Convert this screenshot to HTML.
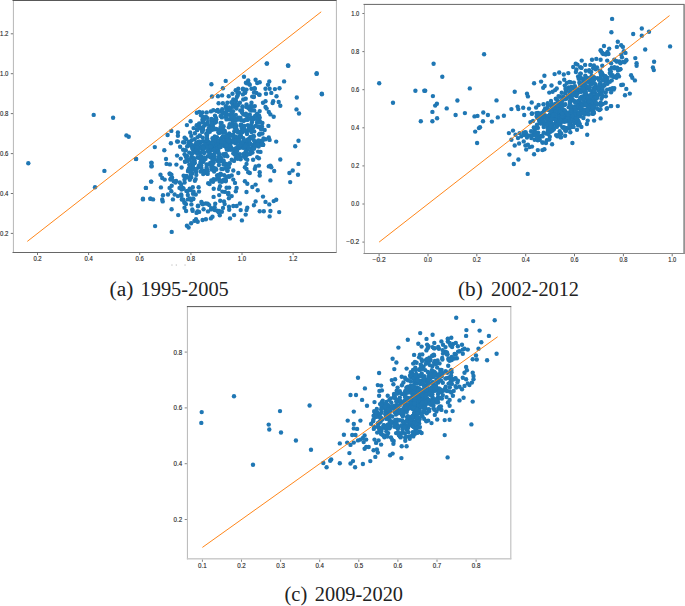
<!DOCTYPE html><html><head><meta charset="utf-8"><style>html,body{margin:0;padding:0;background:#fff;width:685px;height:606px;overflow:hidden}svg{display:block}</style></head><body>
<svg width="685" height="606" viewBox="0 0 685 606">
<rect width="685" height="606" fill="#fff"/>
<clipPath id="ca"><rect x="13" y="0" width="323.0" height="252.0"/></clipPath>
<g fill="#1f77b4" clip-path="url(#ca)"><circle cx="28.3" cy="163.2" r="2.2"/><circle cx="93.7" cy="114.9" r="2.2"/><circle cx="113.1" cy="117.8" r="2.2"/><circle cx="126.4" cy="135.4" r="2.2"/><circle cx="128.7" cy="136.8" r="2.2"/><circle cx="136.0" cy="158.9" r="2.2"/><circle cx="104.4" cy="170.9" r="2.2"/><circle cx="95.0" cy="187.3" r="2.2"/><circle cx="151.4" cy="162.6" r="2.2"/><circle cx="151.6" cy="166.0" r="2.2"/><circle cx="151.2" cy="181.6" r="2.2"/><circle cx="145.8" cy="187.9" r="2.2"/><circle cx="143.0" cy="198.7" r="2.2"/><circle cx="150.3" cy="198.7" r="2.2"/><circle cx="266.7" cy="63.6" r="2.2"/><circle cx="288.0" cy="65.5" r="2.2"/><circle cx="316.7" cy="73.3" r="2.2"/><circle cx="321.8" cy="93.8" r="2.2"/><circle cx="211.4" cy="84.3" r="2.2"/><circle cx="225.7" cy="80.9" r="2.2"/><circle cx="222.9" cy="88.3" r="2.2"/><circle cx="212.0" cy="96.5" r="2.2"/><circle cx="218.0" cy="96.2" r="2.2"/><circle cx="222.1" cy="95.4" r="2.2"/><circle cx="228.7" cy="96.2" r="2.2"/><circle cx="218.6" cy="103.3" r="2.2"/><circle cx="222.9" cy="103.3" r="2.2"/><circle cx="227.4" cy="102.8" r="2.2"/><circle cx="196.8" cy="112.7" r="2.2"/><circle cx="199.3" cy="111.9" r="2.2"/><circle cx="202.6" cy="112.4" r="2.2"/><circle cx="206.7" cy="112.4" r="2.2"/><circle cx="210.9" cy="111.4" r="2.2"/><circle cx="213.3" cy="110.2" r="2.2"/><circle cx="201.0" cy="115.2" r="2.2"/><circle cx="205.9" cy="116.8" r="2.2"/><circle cx="202.6" cy="116.8" r="2.2"/><circle cx="186.9" cy="125.1" r="2.2"/><circle cx="190.6" cy="121.3" r="2.2"/><circle cx="171.3" cy="130.9" r="2.2"/><circle cx="167.6" cy="135.0" r="2.2"/><circle cx="177.9" cy="132.5" r="2.2"/><circle cx="177.9" cy="135.8" r="2.2"/><circle cx="170.9" cy="143.2" r="2.2"/><circle cx="177.9" cy="141.6" r="2.2"/><circle cx="186.1" cy="139.1" r="2.2"/><circle cx="184.5" cy="142.4" r="2.2"/><circle cx="190.2" cy="132.5" r="2.2"/><circle cx="267.0" cy="63.5" r="2.2"/><circle cx="288.3" cy="65.7" r="2.2"/><circle cx="316.6" cy="73.9" r="2.2"/><circle cx="321.9" cy="94.2" r="2.2"/><circle cx="244.0" cy="76.7" r="2.2"/><circle cx="284.1" cy="81.4" r="2.2"/><circle cx="296.8" cy="97.5" r="2.2"/><circle cx="296.5" cy="109.4" r="2.2"/><circle cx="299.0" cy="113.5" r="2.2"/><circle cx="298.5" cy="140.8" r="2.2"/><circle cx="276.2" cy="141.6" r="2.2"/><circle cx="268.4" cy="125.9" r="2.2"/><circle cx="263.0" cy="144.9" r="2.2"/><circle cx="269.3" cy="81.4" r="2.2"/><circle cx="268.0" cy="84.7" r="2.2"/><circle cx="265.5" cy="88.8" r="2.2"/><circle cx="269.6" cy="88.8" r="2.2"/><circle cx="271.3" cy="92.9" r="2.2"/><circle cx="266.0" cy="93.7" r="2.2"/><circle cx="274.9" cy="89.1" r="2.2"/><circle cx="279.5" cy="88.3" r="2.2"/><circle cx="276.5" cy="96.2" r="2.2"/><circle cx="278.7" cy="102.0" r="2.2"/><circle cx="280.3" cy="105.8" r="2.2"/><circle cx="273.2" cy="101.2" r="2.2"/><circle cx="272.6" cy="103.1" r="2.2"/><circle cx="263.0" cy="102.8" r="2.2"/><circle cx="265.5" cy="101.2" r="2.2"/><circle cx="265.5" cy="106.9" r="2.2"/><circle cx="266.6" cy="108.6" r="2.2"/><circle cx="268.8" cy="111.9" r="2.2"/><circle cx="270.4" cy="114.4" r="2.2"/><circle cx="273.7" cy="116.8" r="2.2"/><circle cx="259.7" cy="117.7" r="2.2"/><circle cx="260.5" cy="126.7" r="2.2"/><circle cx="264.7" cy="130.0" r="2.2"/><circle cx="268.8" cy="137.5" r="2.2"/><circle cx="269.6" cy="139.9" r="2.2"/><circle cx="255.6" cy="79.7" r="2.2"/><circle cx="257.2" cy="83.0" r="2.2"/><circle cx="259.7" cy="82.2" r="2.2"/><circle cx="248.2" cy="80.5" r="2.2"/><circle cx="249.8" cy="84.7" r="2.2"/><circle cx="251.5" cy="88.8" r="2.2"/><circle cx="254.8" cy="88.8" r="2.2"/><circle cx="256.4" cy="92.9" r="2.2"/><circle cx="258.9" cy="94.6" r="2.2"/><circle cx="253.9" cy="97.0" r="2.2"/><circle cx="246.5" cy="89.6" r="2.2"/><circle cx="244.9" cy="92.9" r="2.2"/><circle cx="238.3" cy="88.8" r="2.2"/><circle cx="237.4" cy="92.9" r="2.2"/><circle cx="232.5" cy="93.7" r="2.2"/><circle cx="233.3" cy="99.5" r="2.2"/><circle cx="239.9" cy="102.8" r="2.2"/><circle cx="243.2" cy="99.5" r="2.2"/><circle cx="246.5" cy="104.5" r="2.2"/><circle cx="251.5" cy="102.8" r="2.2"/><circle cx="254.8" cy="106.1" r="2.2"/><circle cx="259.7" cy="111.1" r="2.2"/><circle cx="256.4" cy="116.0" r="2.2"/><circle cx="253.1" cy="119.3" r="2.2"/><circle cx="249.8" cy="114.4" r="2.2"/><circle cx="136.1" cy="159.0" r="2.2"/><circle cx="154.8" cy="147.1" r="2.2"/><circle cx="164.3" cy="150.2" r="2.2"/><circle cx="151.5" cy="163.1" r="2.2"/><circle cx="151.5" cy="166.4" r="2.2"/><circle cx="166.0" cy="159.0" r="2.2"/><circle cx="166.6" cy="163.9" r="2.2"/><circle cx="169.9" cy="164.4" r="2.2"/><circle cx="151.1" cy="181.6" r="2.2"/><circle cx="146.0" cy="187.9" r="2.2"/><circle cx="160.5" cy="174.7" r="2.2"/><circle cx="162.2" cy="178.0" r="2.2"/><circle cx="164.7" cy="179.6" r="2.2"/><circle cx="160.9" cy="187.4" r="2.2"/><circle cx="142.9" cy="199.4" r="2.2"/><circle cx="150.6" cy="198.6" r="2.2"/><circle cx="153.1" cy="199.4" r="2.2"/><circle cx="162.2" cy="199.4" r="2.2"/><circle cx="162.7" cy="201.4" r="2.2"/><circle cx="163.0" cy="195.3" r="2.2"/><circle cx="171.6" cy="209.3" r="2.2"/><circle cx="178.2" cy="215.1" r="2.2"/><circle cx="155.1" cy="226.1" r="2.2"/><circle cx="171.7" cy="231.9" r="2.2"/><circle cx="186.9" cy="225.8" r="2.2"/><circle cx="188.6" cy="227.5" r="2.2"/><circle cx="191.1" cy="223.3" r="2.2"/><circle cx="194.4" cy="220.9" r="2.2"/><circle cx="196.0" cy="219.2" r="2.2"/><circle cx="197.7" cy="221.7" r="2.2"/><circle cx="202.6" cy="220.0" r="2.2"/><circle cx="205.9" cy="219.2" r="2.2"/><circle cx="210.9" cy="218.4" r="2.2"/><circle cx="212.5" cy="216.7" r="2.2"/><circle cx="169.6" cy="173.8" r="2.2"/><circle cx="170.4" cy="179.6" r="2.2"/><circle cx="173.7" cy="181.3" r="2.2"/><circle cx="169.6" cy="187.9" r="2.2"/><circle cx="168.0" cy="194.5" r="2.2"/><circle cx="171.3" cy="191.2" r="2.2"/><circle cx="174.6" cy="194.5" r="2.2"/><circle cx="172.9" cy="199.4" r="2.2"/><circle cx="177.9" cy="196.1" r="2.2"/><circle cx="181.2" cy="194.5" r="2.2"/><circle cx="179.5" cy="187.9" r="2.2"/><circle cx="181.2" cy="184.6" r="2.2"/><circle cx="182.8" cy="187.9" r="2.2"/><circle cx="184.5" cy="207.7" r="2.2"/><circle cx="186.1" cy="211.0" r="2.2"/><circle cx="184.5" cy="202.7" r="2.2"/><circle cx="187.8" cy="199.4" r="2.2"/><circle cx="295.2" cy="146.3" r="2.2"/><circle cx="280.3" cy="159.5" r="2.2"/><circle cx="298.5" cy="163.9" r="2.2"/><circle cx="292.7" cy="170.5" r="2.2"/><circle cx="289.4" cy="173.0" r="2.2"/><circle cx="298.0" cy="174.7" r="2.2"/><circle cx="290.2" cy="182.1" r="2.2"/><circle cx="270.4" cy="180.4" r="2.2"/><circle cx="274.2" cy="171.0" r="2.2"/><circle cx="270.4" cy="165.6" r="2.2"/><circle cx="268.8" cy="166.4" r="2.2"/><circle cx="271.3" cy="167.2" r="2.2"/><circle cx="259.7" cy="172.2" r="2.2"/><circle cx="259.7" cy="175.5" r="2.2"/><circle cx="258.9" cy="165.6" r="2.2"/><circle cx="255.6" cy="166.4" r="2.2"/><circle cx="254.8" cy="168.9" r="2.2"/><circle cx="249.8" cy="173.0" r="2.2"/><circle cx="248.2" cy="172.2" r="2.2"/><circle cx="246.5" cy="168.9" r="2.2"/><circle cx="244.9" cy="167.2" r="2.2"/><circle cx="246.5" cy="163.9" r="2.2"/><circle cx="247.3" cy="159.8" r="2.2"/><circle cx="253.1" cy="159.8" r="2.2"/><circle cx="257.2" cy="157.3" r="2.2"/><circle cx="258.9" cy="158.2" r="2.2"/><circle cx="258.1" cy="151.6" r="2.2"/><circle cx="260.5" cy="151.9" r="2.2"/><circle cx="253.1" cy="146.6" r="2.2"/><circle cx="251.5" cy="151.6" r="2.2"/><circle cx="249.8" cy="154.0" r="2.2"/><circle cx="246.5" cy="153.2" r="2.2"/><circle cx="244.9" cy="156.5" r="2.2"/><circle cx="239.9" cy="158.2" r="2.2"/><circle cx="236.6" cy="156.5" r="2.2"/><circle cx="233.3" cy="153.2" r="2.2"/><circle cx="231.7" cy="159.8" r="2.2"/><circle cx="238.3" cy="173.0" r="2.2"/><circle cx="233.3" cy="170.5" r="2.2"/><circle cx="231.7" cy="175.5" r="2.2"/><circle cx="233.3" cy="179.6" r="2.2"/><circle cx="235.0" cy="182.9" r="2.2"/><circle cx="236.6" cy="187.9" r="2.2"/><circle cx="235.8" cy="191.2" r="2.2"/><circle cx="231.7" cy="196.1" r="2.2"/><circle cx="246.5" cy="192.0" r="2.2"/><circle cx="244.9" cy="181.3" r="2.2"/><circle cx="247.3" cy="183.7" r="2.2"/><circle cx="252.3" cy="187.0" r="2.2"/><circle cx="255.6" cy="184.6" r="2.2"/><circle cx="257.7" cy="190.3" r="2.2"/><circle cx="263.0" cy="196.6" r="2.2"/><circle cx="265.5" cy="201.9" r="2.2"/><circle cx="269.3" cy="204.4" r="2.2"/><circle cx="273.7" cy="201.1" r="2.2"/><circle cx="276.2" cy="199.7" r="2.2"/><circle cx="255.6" cy="201.4" r="2.2"/><circle cx="253.9" cy="205.2" r="2.2"/><circle cx="239.9" cy="203.5" r="2.2"/><circle cx="236.6" cy="206.0" r="2.2"/><circle cx="233.3" cy="206.0" r="2.2"/><circle cx="240.7" cy="210.1" r="2.2"/><circle cx="247.3" cy="207.7" r="2.2"/><circle cx="246.5" cy="210.1" r="2.2"/><circle cx="245.7" cy="214.6" r="2.2"/><circle cx="259.7" cy="211.3" r="2.2"/><circle cx="263.8" cy="211.3" r="2.2"/><circle cx="270.4" cy="211.0" r="2.2"/><circle cx="279.2" cy="212.1" r="2.2"/><circle cx="269.6" cy="216.4" r="2.2"/><circle cx="234.1" cy="215.1" r="2.2"/><circle cx="230.0" cy="218.4" r="2.2"/><circle cx="241.9" cy="220.4" r="2.2"/><circle cx="177.1" cy="141.5" r="2.2"/><circle cx="180.1" cy="146.7" r="2.2"/><circle cx="183.1" cy="142.3" r="2.2"/><circle cx="177.1" cy="155.6" r="2.2"/><circle cx="180.8" cy="158.6" r="2.2"/><circle cx="184.6" cy="154.2" r="2.2"/><circle cx="176.4" cy="164.6" r="2.2"/><circle cx="181.6" cy="167.5" r="2.2"/><circle cx="185.3" cy="161.6" r="2.2"/><circle cx="183.1" cy="149.7" r="2.2"/><circle cx="184.6" cy="137.8" r="2.2"/><circle cx="236.9" cy="97.0" r="2.2"/><circle cx="247.1" cy="83.4" r="2.2"/><circle cx="243.0" cy="89.6" r="2.2"/><circle cx="239.0" cy="92.7" r="2.2"/><circle cx="242.9" cy="94.4" r="2.2"/><circle cx="252.2" cy="96.6" r="2.2"/><circle cx="237.8" cy="95.4" r="2.2"/><circle cx="254.5" cy="88.2" r="2.2"/><circle cx="245.2" cy="92.2" r="2.2"/><circle cx="248.7" cy="83.5" r="2.2"/><circle cx="253.8" cy="96.7" r="2.2"/><circle cx="245.7" cy="98.8" r="2.2"/><circle cx="235.7" cy="90.3" r="2.2"/><circle cx="254.0" cy="92.4" r="2.2"/><circle cx="245.9" cy="82.7" r="2.2"/><circle cx="259.6" cy="94.8" r="2.2"/><circle cx="244.9" cy="89.6" r="2.2"/><circle cx="242.9" cy="88.7" r="2.2"/><circle cx="227.6" cy="135.5" r="2.2"/><circle cx="202.4" cy="119.7" r="2.2"/><circle cx="220.7" cy="147.1" r="2.2"/><circle cx="199.6" cy="135.5" r="2.2"/><circle cx="226.7" cy="109.4" r="2.2"/><circle cx="224.4" cy="112.6" r="2.2"/><circle cx="202.6" cy="122.1" r="2.2"/><circle cx="228.8" cy="127.2" r="2.2"/><circle cx="221.6" cy="122.9" r="2.2"/><circle cx="216.3" cy="128.9" r="2.2"/><circle cx="225.5" cy="140.0" r="2.2"/><circle cx="215.0" cy="115.8" r="2.2"/><circle cx="208.8" cy="148.0" r="2.2"/><circle cx="202.9" cy="127.6" r="2.2"/><circle cx="197.7" cy="144.6" r="2.2"/><circle cx="222.2" cy="109.3" r="2.2"/><circle cx="223.1" cy="132.2" r="2.2"/><circle cx="197.5" cy="137.1" r="2.2"/><circle cx="211.4" cy="120.6" r="2.2"/><circle cx="228.1" cy="146.7" r="2.2"/><circle cx="220.8" cy="138.9" r="2.2"/><circle cx="202.8" cy="149.5" r="2.2"/><circle cx="207.2" cy="139.4" r="2.2"/><circle cx="209.2" cy="128.2" r="2.2"/><circle cx="225.8" cy="107.0" r="2.2"/><circle cx="217.7" cy="109.9" r="2.2"/><circle cx="204.1" cy="119.3" r="2.2"/><circle cx="196.8" cy="129.2" r="2.2"/><circle cx="217.0" cy="137.2" r="2.2"/><circle cx="194.6" cy="139.3" r="2.2"/><circle cx="211.4" cy="119.0" r="2.2"/><circle cx="212.9" cy="121.6" r="2.2"/><circle cx="228.5" cy="136.0" r="2.2"/><circle cx="220.3" cy="132.4" r="2.2"/><circle cx="214.7" cy="136.4" r="2.2"/><circle cx="229.2" cy="133.4" r="2.2"/><circle cx="226.0" cy="117.2" r="2.2"/><circle cx="216.0" cy="117.9" r="2.2"/><circle cx="225.8" cy="115.2" r="2.2"/><circle cx="220.6" cy="126.9" r="2.2"/><circle cx="215.4" cy="138.9" r="2.2"/><circle cx="214.9" cy="129.3" r="2.2"/><circle cx="207.7" cy="122.0" r="2.2"/><circle cx="227.9" cy="142.8" r="2.2"/><circle cx="206.5" cy="123.9" r="2.2"/><circle cx="219.1" cy="132.9" r="2.2"/><circle cx="202.4" cy="130.2" r="2.2"/><circle cx="226.8" cy="108.1" r="2.2"/><circle cx="223.6" cy="126.2" r="2.2"/><circle cx="229.7" cy="124.1" r="2.2"/><circle cx="196.7" cy="125.3" r="2.2"/><circle cx="224.4" cy="145.9" r="2.2"/><circle cx="207.5" cy="118.1" r="2.2"/><circle cx="208.9" cy="149.0" r="2.2"/><circle cx="210.3" cy="126.0" r="2.2"/><circle cx="224.9" cy="136.9" r="2.2"/><circle cx="213.0" cy="126.2" r="2.2"/><circle cx="218.8" cy="130.1" r="2.2"/><circle cx="203.4" cy="146.8" r="2.2"/><circle cx="215.8" cy="118.6" r="2.2"/><circle cx="207.0" cy="147.0" r="2.2"/><circle cx="213.7" cy="140.0" r="2.2"/><circle cx="202.7" cy="127.5" r="2.2"/><circle cx="193.9" cy="149.9" r="2.2"/><circle cx="194.9" cy="133.3" r="2.2"/><circle cx="229.7" cy="125.0" r="2.2"/><circle cx="213.0" cy="147.3" r="2.2"/><circle cx="212.2" cy="129.8" r="2.2"/><circle cx="220.6" cy="123.0" r="2.2"/><circle cx="213.1" cy="141.4" r="2.2"/><circle cx="204.3" cy="125.5" r="2.2"/><circle cx="205.1" cy="124.7" r="2.2"/><circle cx="225.8" cy="106.1" r="2.2"/><circle cx="203.1" cy="141.6" r="2.2"/><circle cx="212.3" cy="124.2" r="2.2"/><circle cx="215.1" cy="146.6" r="2.2"/><circle cx="228.2" cy="135.8" r="2.2"/><circle cx="203.1" cy="121.4" r="2.2"/><circle cx="202.5" cy="149.4" r="2.2"/><circle cx="216.6" cy="110.9" r="2.2"/><circle cx="202.8" cy="137.6" r="2.2"/><circle cx="200.2" cy="136.1" r="2.2"/><circle cx="216.9" cy="147.1" r="2.2"/><circle cx="229.9" cy="110.3" r="2.2"/><circle cx="214.5" cy="146.4" r="2.2"/><circle cx="207.4" cy="124.2" r="2.2"/><circle cx="199.4" cy="124.0" r="2.2"/><circle cx="226.1" cy="113.3" r="2.2"/><circle cx="226.6" cy="109.8" r="2.2"/><circle cx="229.1" cy="138.8" r="2.2"/><circle cx="212.5" cy="138.2" r="2.2"/><circle cx="199.4" cy="127.3" r="2.2"/><circle cx="222.6" cy="112.7" r="2.2"/><circle cx="199.6" cy="142.8" r="2.2"/><circle cx="202.3" cy="131.6" r="2.2"/><circle cx="215.8" cy="137.9" r="2.2"/><circle cx="220.1" cy="129.0" r="2.2"/><circle cx="226.9" cy="136.8" r="2.2"/><circle cx="219.4" cy="145.0" r="2.2"/><circle cx="221.6" cy="116.5" r="2.2"/><circle cx="193.1" cy="149.6" r="2.2"/><circle cx="218.6" cy="132.6" r="2.2"/><circle cx="227.4" cy="110.4" r="2.2"/><circle cx="201.0" cy="146.7" r="2.2"/><circle cx="223.0" cy="141.3" r="2.2"/><circle cx="197.0" cy="130.1" r="2.2"/><circle cx="200.7" cy="128.5" r="2.2"/><circle cx="223.6" cy="113.2" r="2.2"/><circle cx="207.0" cy="135.7" r="2.2"/><circle cx="228.8" cy="143.4" r="2.2"/><circle cx="213.1" cy="139.5" r="2.2"/><circle cx="197.2" cy="130.0" r="2.2"/><circle cx="221.9" cy="137.9" r="2.2"/><circle cx="193.6" cy="128.1" r="2.2"/><circle cx="202.9" cy="141.1" r="2.2"/><circle cx="222.9" cy="131.4" r="2.2"/><circle cx="220.6" cy="115.9" r="2.2"/><circle cx="190.5" cy="143.6" r="2.2"/><circle cx="223.1" cy="129.8" r="2.2"/><circle cx="217.7" cy="143.3" r="2.2"/><circle cx="214.8" cy="122.7" r="2.2"/><circle cx="211.6" cy="146.8" r="2.2"/><circle cx="199.2" cy="123.4" r="2.2"/><circle cx="229.1" cy="107.4" r="2.2"/><circle cx="191.3" cy="135.9" r="2.2"/><circle cx="215.5" cy="119.7" r="2.2"/><circle cx="209.8" cy="131.8" r="2.2"/><circle cx="229.6" cy="134.8" r="2.2"/><circle cx="228.1" cy="148.7" r="2.2"/><circle cx="207.6" cy="130.7" r="2.2"/><circle cx="206.2" cy="133.7" r="2.2"/><circle cx="202.3" cy="148.2" r="2.2"/><circle cx="216.3" cy="119.6" r="2.2"/><circle cx="225.1" cy="136.9" r="2.2"/><circle cx="207.4" cy="133.8" r="2.2"/><circle cx="226.5" cy="119.4" r="2.2"/><circle cx="197.5" cy="147.0" r="2.2"/><circle cx="198.4" cy="149.0" r="2.2"/><circle cx="228.1" cy="149.8" r="2.2"/><circle cx="226.5" cy="136.2" r="2.2"/><circle cx="209.0" cy="142.3" r="2.2"/><circle cx="210.7" cy="145.5" r="2.2"/><circle cx="202.1" cy="131.8" r="2.2"/><circle cx="188.2" cy="145.7" r="2.2"/><circle cx="203.1" cy="129.6" r="2.2"/><circle cx="229.4" cy="119.2" r="2.2"/><circle cx="208.8" cy="128.1" r="2.2"/><circle cx="221.7" cy="111.8" r="2.2"/><circle cx="193.9" cy="148.7" r="2.2"/><circle cx="218.6" cy="111.8" r="2.2"/><circle cx="212.4" cy="119.6" r="2.2"/><circle cx="229.4" cy="110.2" r="2.2"/><circle cx="200.4" cy="142.2" r="2.2"/><circle cx="207.0" cy="138.3" r="2.2"/><circle cx="198.6" cy="143.0" r="2.2"/><circle cx="218.7" cy="146.5" r="2.2"/><circle cx="218.4" cy="131.8" r="2.2"/><circle cx="222.9" cy="136.2" r="2.2"/><circle cx="197.6" cy="143.2" r="2.2"/><circle cx="224.7" cy="130.8" r="2.2"/><circle cx="226.3" cy="147.0" r="2.2"/><circle cx="221.9" cy="117.4" r="2.2"/><circle cx="211.4" cy="123.8" r="2.2"/><circle cx="225.1" cy="132.8" r="2.2"/><circle cx="216.0" cy="122.1" r="2.2"/><circle cx="229.2" cy="114.9" r="2.2"/><circle cx="235.8" cy="100.0" r="2.2"/><circle cx="251.3" cy="125.0" r="2.2"/><circle cx="240.8" cy="124.8" r="2.2"/><circle cx="254.9" cy="143.0" r="2.2"/><circle cx="246.8" cy="143.7" r="2.2"/><circle cx="262.4" cy="133.6" r="2.2"/><circle cx="250.5" cy="107.2" r="2.2"/><circle cx="238.8" cy="139.8" r="2.2"/><circle cx="234.0" cy="138.8" r="2.2"/><circle cx="258.3" cy="143.2" r="2.2"/><circle cx="249.6" cy="130.2" r="2.2"/><circle cx="263.5" cy="138.4" r="2.2"/><circle cx="235.9" cy="136.7" r="2.2"/><circle cx="251.4" cy="110.5" r="2.2"/><circle cx="235.3" cy="106.7" r="2.2"/><circle cx="252.2" cy="118.8" r="2.2"/><circle cx="232.0" cy="135.8" r="2.2"/><circle cx="257.0" cy="122.8" r="2.2"/><circle cx="250.8" cy="137.8" r="2.2"/><circle cx="234.6" cy="105.4" r="2.2"/><circle cx="234.1" cy="142.1" r="2.2"/><circle cx="249.0" cy="126.3" r="2.2"/><circle cx="247.9" cy="125.1" r="2.2"/><circle cx="240.7" cy="145.2" r="2.2"/><circle cx="232.7" cy="104.0" r="2.2"/><circle cx="240.6" cy="125.6" r="2.2"/><circle cx="259.5" cy="121.0" r="2.2"/><circle cx="239.6" cy="147.2" r="2.2"/><circle cx="235.2" cy="142.7" r="2.2"/><circle cx="251.9" cy="122.5" r="2.2"/><circle cx="255.1" cy="142.7" r="2.2"/><circle cx="236.3" cy="126.5" r="2.2"/><circle cx="232.1" cy="102.6" r="2.2"/><circle cx="235.9" cy="101.5" r="2.2"/><circle cx="238.6" cy="117.9" r="2.2"/><circle cx="243.1" cy="145.9" r="2.2"/><circle cx="250.4" cy="136.9" r="2.2"/><circle cx="263.2" cy="144.7" r="2.2"/><circle cx="242.7" cy="147.4" r="2.2"/><circle cx="253.0" cy="136.3" r="2.2"/><circle cx="254.1" cy="117.6" r="2.2"/><circle cx="240.3" cy="110.4" r="2.2"/><circle cx="250.1" cy="138.1" r="2.2"/><circle cx="265.7" cy="139.3" r="2.2"/><circle cx="245.4" cy="130.4" r="2.2"/><circle cx="259.9" cy="143.2" r="2.2"/><circle cx="242.1" cy="110.8" r="2.2"/><circle cx="243.7" cy="120.7" r="2.2"/><circle cx="232.8" cy="142.0" r="2.2"/><circle cx="237.3" cy="139.9" r="2.2"/><circle cx="252.8" cy="145.0" r="2.2"/><circle cx="237.9" cy="105.6" r="2.2"/><circle cx="240.8" cy="131.5" r="2.2"/><circle cx="241.6" cy="125.0" r="2.2"/><circle cx="259.8" cy="134.5" r="2.2"/><circle cx="234.3" cy="131.3" r="2.2"/><circle cx="231.4" cy="102.3" r="2.2"/><circle cx="252.8" cy="127.6" r="2.2"/><circle cx="262.4" cy="123.0" r="2.2"/><circle cx="249.3" cy="126.1" r="2.2"/><circle cx="234.2" cy="149.8" r="2.2"/><circle cx="243.6" cy="120.6" r="2.2"/><circle cx="246.0" cy="148.2" r="2.2"/><circle cx="260.9" cy="127.6" r="2.2"/><circle cx="252.2" cy="120.7" r="2.2"/><circle cx="232.4" cy="106.9" r="2.2"/><circle cx="253.9" cy="140.3" r="2.2"/><circle cx="233.0" cy="111.2" r="2.2"/><circle cx="232.3" cy="123.6" r="2.2"/><circle cx="255.1" cy="115.9" r="2.2"/><circle cx="243.3" cy="138.3" r="2.2"/><circle cx="248.3" cy="107.8" r="2.2"/><circle cx="236.4" cy="108.6" r="2.2"/><circle cx="236.3" cy="129.6" r="2.2"/><circle cx="259.0" cy="115.4" r="2.2"/><circle cx="260.4" cy="140.9" r="2.2"/><circle cx="258.7" cy="146.6" r="2.2"/><circle cx="242.2" cy="132.3" r="2.2"/><circle cx="242.4" cy="106.5" r="2.2"/><circle cx="246.2" cy="115.5" r="2.2"/><circle cx="235.7" cy="119.0" r="2.2"/><circle cx="244.0" cy="142.1" r="2.2"/><circle cx="249.9" cy="109.6" r="2.2"/><circle cx="240.7" cy="136.3" r="2.2"/><circle cx="236.0" cy="119.6" r="2.2"/><circle cx="233.2" cy="134.7" r="2.2"/><circle cx="246.5" cy="132.2" r="2.2"/><circle cx="249.2" cy="144.2" r="2.2"/><circle cx="241.1" cy="132.6" r="2.2"/><circle cx="230.3" cy="109.7" r="2.2"/><circle cx="247.1" cy="119.4" r="2.2"/><circle cx="251.0" cy="105.7" r="2.2"/><circle cx="247.4" cy="145.0" r="2.2"/><circle cx="246.5" cy="107.0" r="2.2"/><circle cx="242.0" cy="112.5" r="2.2"/><circle cx="251.5" cy="148.6" r="2.2"/><circle cx="237.0" cy="131.4" r="2.2"/><circle cx="262.4" cy="141.3" r="2.2"/><circle cx="254.2" cy="131.4" r="2.2"/><circle cx="232.3" cy="117.8" r="2.2"/><circle cx="243.3" cy="147.8" r="2.2"/><circle cx="235.5" cy="143.3" r="2.2"/><circle cx="236.7" cy="129.7" r="2.2"/><circle cx="253.3" cy="146.8" r="2.2"/><circle cx="253.9" cy="136.3" r="2.2"/><circle cx="241.9" cy="128.2" r="2.2"/><circle cx="251.7" cy="128.9" r="2.2"/><circle cx="256.8" cy="119.0" r="2.2"/><circle cx="239.7" cy="136.1" r="2.2"/><circle cx="238.5" cy="119.6" r="2.2"/><circle cx="231.1" cy="147.2" r="2.2"/><circle cx="257.0" cy="113.6" r="2.2"/><circle cx="235.8" cy="139.8" r="2.2"/><circle cx="247.5" cy="116.5" r="2.2"/><circle cx="247.3" cy="144.1" r="2.2"/><circle cx="259.1" cy="134.6" r="2.2"/><circle cx="234.8" cy="137.4" r="2.2"/><circle cx="252.6" cy="118.7" r="2.2"/><circle cx="249.0" cy="128.2" r="2.2"/><circle cx="238.1" cy="132.5" r="2.2"/><circle cx="241.3" cy="120.3" r="2.2"/><circle cx="244.2" cy="129.1" r="2.2"/><circle cx="234.4" cy="125.7" r="2.2"/><circle cx="231.8" cy="117.2" r="2.2"/><circle cx="235.6" cy="124.3" r="2.2"/><circle cx="244.6" cy="126.0" r="2.2"/><circle cx="261.1" cy="129.2" r="2.2"/><circle cx="240.7" cy="135.4" r="2.2"/><circle cx="259.8" cy="133.6" r="2.2"/><circle cx="261.9" cy="144.7" r="2.2"/><circle cx="238.2" cy="148.2" r="2.2"/><circle cx="247.0" cy="134.1" r="2.2"/><circle cx="248.9" cy="142.0" r="2.2"/><circle cx="258.2" cy="127.0" r="2.2"/><circle cx="253.2" cy="148.2" r="2.2"/><circle cx="235.3" cy="137.4" r="2.2"/><circle cx="232.3" cy="113.0" r="2.2"/><circle cx="231.8" cy="113.3" r="2.2"/><circle cx="257.6" cy="121.0" r="2.2"/><circle cx="251.2" cy="117.5" r="2.2"/><circle cx="261.8" cy="129.0" r="2.2"/><circle cx="234.0" cy="141.7" r="2.2"/><circle cx="233.3" cy="141.6" r="2.2"/><circle cx="243.3" cy="114.6" r="2.2"/><circle cx="234.8" cy="127.7" r="2.2"/><circle cx="236.1" cy="104.2" r="2.2"/><circle cx="248.0" cy="130.4" r="2.2"/><circle cx="232.7" cy="120.5" r="2.2"/><circle cx="231.5" cy="126.4" r="2.2"/><circle cx="257.4" cy="144.1" r="2.2"/><circle cx="254.2" cy="110.5" r="2.2"/><circle cx="260.1" cy="121.9" r="2.2"/><circle cx="249.0" cy="147.8" r="2.2"/><circle cx="257.9" cy="141.2" r="2.2"/><circle cx="252.6" cy="106.7" r="2.2"/><circle cx="233.0" cy="121.2" r="2.2"/><circle cx="239.1" cy="146.1" r="2.2"/><circle cx="241.0" cy="136.6" r="2.2"/><circle cx="250.3" cy="118.6" r="2.2"/><circle cx="241.1" cy="143.6" r="2.2"/><circle cx="251.5" cy="132.1" r="2.2"/><circle cx="240.4" cy="117.9" r="2.2"/><circle cx="230.4" cy="144.0" r="2.2"/><circle cx="249.4" cy="129.5" r="2.2"/><circle cx="243.7" cy="130.2" r="2.2"/><circle cx="245.9" cy="113.8" r="2.2"/><circle cx="236.0" cy="148.2" r="2.2"/><circle cx="247.5" cy="140.0" r="2.2"/><circle cx="248.0" cy="107.2" r="2.2"/><circle cx="234.4" cy="149.7" r="2.2"/><circle cx="248.1" cy="145.1" r="2.2"/><circle cx="239.9" cy="147.7" r="2.2"/><circle cx="246.3" cy="143.7" r="2.2"/><circle cx="255.5" cy="125.9" r="2.2"/><circle cx="239.1" cy="117.6" r="2.2"/><circle cx="247.8" cy="119.7" r="2.2"/><circle cx="262.0" cy="126.4" r="2.2"/><circle cx="251.5" cy="137.7" r="2.2"/><circle cx="239.6" cy="137.3" r="2.2"/><circle cx="235.8" cy="114.9" r="2.2"/><circle cx="236.2" cy="137.8" r="2.2"/><circle cx="242.7" cy="106.9" r="2.2"/><circle cx="235.8" cy="120.3" r="2.2"/><circle cx="258.5" cy="140.5" r="2.2"/><circle cx="255.5" cy="145.6" r="2.2"/><circle cx="248.3" cy="139.3" r="2.2"/><circle cx="259.1" cy="122.5" r="2.2"/><circle cx="245.9" cy="119.8" r="2.2"/><circle cx="231.3" cy="134.9" r="2.2"/><circle cx="233.6" cy="117.0" r="2.2"/><circle cx="231.9" cy="116.8" r="2.2"/><circle cx="257.5" cy="144.4" r="2.2"/><circle cx="249.7" cy="109.4" r="2.2"/><circle cx="253.2" cy="127.5" r="2.2"/><circle cx="246.1" cy="115.0" r="2.2"/><circle cx="194.7" cy="169.3" r="2.2"/><circle cx="192.7" cy="148.9" r="2.2"/><circle cx="223.6" cy="180.4" r="2.2"/><circle cx="223.5" cy="164.6" r="2.2"/><circle cx="189.2" cy="152.6" r="2.2"/><circle cx="197.6" cy="157.5" r="2.2"/><circle cx="214.6" cy="156.6" r="2.2"/><circle cx="216.4" cy="149.8" r="2.2"/><circle cx="204.4" cy="170.7" r="2.2"/><circle cx="206.4" cy="170.8" r="2.2"/><circle cx="218.2" cy="175.1" r="2.2"/><circle cx="204.4" cy="159.0" r="2.2"/><circle cx="198.5" cy="167.1" r="2.2"/><circle cx="189.5" cy="143.1" r="2.2"/><circle cx="196.0" cy="146.2" r="2.2"/><circle cx="187.0" cy="155.9" r="2.2"/><circle cx="226.5" cy="164.2" r="2.2"/><circle cx="214.0" cy="145.9" r="2.2"/><circle cx="193.4" cy="162.5" r="2.2"/><circle cx="223.0" cy="169.1" r="2.2"/><circle cx="201.4" cy="168.0" r="2.2"/><circle cx="194.0" cy="151.9" r="2.2"/><circle cx="203.0" cy="145.6" r="2.2"/><circle cx="191.9" cy="164.3" r="2.2"/><circle cx="187.7" cy="161.1" r="2.2"/><circle cx="212.6" cy="160.0" r="2.2"/><circle cx="199.5" cy="143.2" r="2.2"/><circle cx="196.1" cy="172.1" r="2.2"/><circle cx="205.4" cy="141.8" r="2.2"/><circle cx="213.2" cy="148.5" r="2.2"/><circle cx="215.0" cy="148.2" r="2.2"/><circle cx="197.2" cy="151.5" r="2.2"/><circle cx="223.0" cy="180.3" r="2.2"/><circle cx="207.7" cy="164.6" r="2.2"/><circle cx="229.2" cy="176.7" r="2.2"/><circle cx="190.2" cy="144.7" r="2.2"/><circle cx="191.7" cy="167.4" r="2.2"/><circle cx="228.9" cy="176.1" r="2.2"/><circle cx="215.5" cy="168.5" r="2.2"/><circle cx="211.7" cy="167.1" r="2.2"/><circle cx="200.0" cy="158.2" r="2.2"/><circle cx="191.3" cy="157.0" r="2.2"/><circle cx="221.0" cy="144.8" r="2.2"/><circle cx="205.7" cy="172.5" r="2.2"/><circle cx="229.5" cy="163.4" r="2.2"/><circle cx="223.4" cy="161.2" r="2.2"/><circle cx="191.9" cy="157.4" r="2.2"/><circle cx="229.4" cy="147.0" r="2.2"/><circle cx="191.3" cy="166.7" r="2.2"/><circle cx="194.8" cy="162.7" r="2.2"/><circle cx="208.1" cy="147.1" r="2.2"/><circle cx="191.9" cy="164.4" r="2.2"/><circle cx="217.4" cy="143.8" r="2.2"/><circle cx="225.8" cy="180.3" r="2.2"/><circle cx="188.0" cy="171.0" r="2.2"/><circle cx="192.3" cy="173.5" r="2.2"/><circle cx="219.4" cy="155.7" r="2.2"/><circle cx="215.4" cy="142.6" r="2.2"/><circle cx="218.1" cy="150.7" r="2.2"/><circle cx="225.3" cy="145.8" r="2.2"/><circle cx="209.1" cy="151.4" r="2.2"/><circle cx="201.3" cy="156.6" r="2.2"/><circle cx="188.7" cy="143.8" r="2.2"/><circle cx="196.7" cy="168.9" r="2.2"/><circle cx="191.4" cy="173.3" r="2.2"/><circle cx="207.9" cy="156.3" r="2.2"/><circle cx="218.9" cy="153.2" r="2.2"/><circle cx="229.6" cy="163.5" r="2.2"/><circle cx="191.1" cy="145.0" r="2.2"/><circle cx="225.2" cy="145.8" r="2.2"/><circle cx="194.6" cy="160.3" r="2.2"/><circle cx="225.9" cy="146.7" r="2.2"/><circle cx="217.5" cy="145.3" r="2.2"/><circle cx="218.9" cy="165.0" r="2.2"/><circle cx="216.5" cy="151.6" r="2.2"/><circle cx="220.6" cy="173.6" r="2.2"/><circle cx="210.2" cy="162.9" r="2.2"/><circle cx="188.9" cy="141.7" r="2.2"/><circle cx="213.8" cy="156.2" r="2.2"/><circle cx="202.7" cy="160.8" r="2.2"/><circle cx="224.5" cy="155.9" r="2.2"/><circle cx="200.3" cy="156.0" r="2.2"/><circle cx="212.1" cy="162.3" r="2.2"/><circle cx="209.1" cy="142.4" r="2.2"/><circle cx="190.3" cy="169.5" r="2.2"/><circle cx="217.8" cy="161.0" r="2.2"/><circle cx="205.2" cy="144.3" r="2.2"/><circle cx="208.6" cy="143.2" r="2.2"/><circle cx="204.0" cy="153.0" r="2.2"/><circle cx="185.8" cy="156.6" r="2.2"/><circle cx="207.7" cy="173.9" r="2.2"/><circle cx="203.3" cy="161.8" r="2.2"/><circle cx="203.5" cy="171.8" r="2.2"/><circle cx="194.3" cy="163.2" r="2.2"/><circle cx="210.5" cy="157.2" r="2.2"/><circle cx="204.6" cy="147.9" r="2.2"/><circle cx="212.5" cy="149.6" r="2.2"/><circle cx="229.0" cy="141.8" r="2.2"/><circle cx="217.1" cy="175.4" r="2.2"/><circle cx="212.7" cy="159.1" r="2.2"/><circle cx="216.3" cy="169.5" r="2.2"/><circle cx="196.7" cy="143.4" r="2.2"/><circle cx="218.9" cy="174.9" r="2.2"/><circle cx="196.0" cy="152.3" r="2.2"/><circle cx="214.9" cy="153.1" r="2.2"/><circle cx="194.6" cy="145.2" r="2.2"/><circle cx="221.1" cy="142.0" r="2.2"/><circle cx="200.4" cy="152.5" r="2.2"/><circle cx="226.1" cy="145.2" r="2.2"/><circle cx="220.8" cy="158.3" r="2.2"/><circle cx="227.3" cy="156.3" r="2.2"/><circle cx="219.3" cy="156.5" r="2.2"/><circle cx="201.0" cy="161.2" r="2.2"/><circle cx="193.1" cy="167.4" r="2.2"/><circle cx="225.6" cy="144.2" r="2.2"/><circle cx="228.1" cy="148.7" r="2.2"/><circle cx="191.8" cy="154.3" r="2.2"/><circle cx="211.5" cy="169.5" r="2.2"/><circle cx="216.0" cy="146.8" r="2.2"/><circle cx="201.6" cy="147.7" r="2.2"/><circle cx="211.0" cy="164.9" r="2.2"/><circle cx="220.8" cy="161.3" r="2.2"/><circle cx="211.0" cy="150.5" r="2.2"/><circle cx="215.1" cy="159.6" r="2.2"/><circle cx="196.3" cy="142.6" r="2.2"/><circle cx="203.4" cy="161.5" r="2.2"/><circle cx="212.7" cy="164.1" r="2.2"/><circle cx="200.5" cy="162.5" r="2.2"/><circle cx="220.7" cy="157.6" r="2.2"/><circle cx="223.2" cy="154.2" r="2.2"/><circle cx="204.2" cy="157.5" r="2.2"/><circle cx="194.8" cy="152.1" r="2.2"/><circle cx="213.4" cy="149.9" r="2.2"/><circle cx="225.7" cy="181.3" r="2.2"/><circle cx="199.8" cy="141.8" r="2.2"/><circle cx="203.8" cy="148.5" r="2.2"/><circle cx="206.5" cy="140.1" r="2.2"/><circle cx="206.9" cy="147.0" r="2.2"/><circle cx="221.9" cy="181.8" r="2.2"/><circle cx="207.9" cy="150.9" r="2.2"/><circle cx="193.1" cy="164.4" r="2.2"/><circle cx="201.1" cy="158.9" r="2.2"/><circle cx="205.5" cy="158.9" r="2.2"/><circle cx="227.7" cy="141.2" r="2.2"/><circle cx="218.6" cy="157.6" r="2.2"/><circle cx="226.9" cy="142.5" r="2.2"/><circle cx="221.1" cy="145.5" r="2.2"/><circle cx="219.0" cy="179.2" r="2.2"/><circle cx="191.1" cy="170.4" r="2.2"/><circle cx="199.0" cy="165.4" r="2.2"/><circle cx="189.5" cy="159.5" r="2.2"/><circle cx="213.8" cy="158.2" r="2.2"/><circle cx="219.7" cy="181.6" r="2.2"/><circle cx="209.3" cy="146.1" r="2.2"/><circle cx="204.4" cy="171.9" r="2.2"/><circle cx="185.8" cy="150.3" r="2.2"/><circle cx="193.4" cy="159.4" r="2.2"/><circle cx="213.6" cy="179.3" r="2.2"/><circle cx="227.5" cy="140.1" r="2.2"/><circle cx="221.4" cy="168.9" r="2.2"/><circle cx="215.0" cy="140.6" r="2.2"/><circle cx="189.6" cy="167.5" r="2.2"/><circle cx="223.3" cy="142.6" r="2.2"/><circle cx="218.2" cy="140.7" r="2.2"/><circle cx="215.7" cy="149.0" r="2.2"/><circle cx="194.9" cy="170.1" r="2.2"/><circle cx="206.9" cy="173.2" r="2.2"/><circle cx="198.3" cy="148.5" r="2.2"/><circle cx="200.6" cy="164.3" r="2.2"/><circle cx="214.1" cy="156.0" r="2.2"/><circle cx="215.6" cy="179.6" r="2.2"/><circle cx="199.3" cy="157.9" r="2.2"/><circle cx="217.4" cy="148.1" r="2.2"/><circle cx="194.0" cy="158.3" r="2.2"/><circle cx="225.0" cy="179.3" r="2.2"/><circle cx="207.5" cy="147.7" r="2.2"/><circle cx="189.5" cy="171.4" r="2.2"/><circle cx="196.7" cy="149.2" r="2.2"/><circle cx="206.6" cy="167.5" r="2.2"/><circle cx="214.1" cy="171.6" r="2.2"/><circle cx="209.4" cy="153.2" r="2.2"/><circle cx="217.5" cy="177.7" r="2.2"/><circle cx="223.5" cy="160.4" r="2.2"/><circle cx="226.5" cy="145.5" r="2.2"/><circle cx="228.3" cy="165.3" r="2.2"/><circle cx="219.3" cy="147.5" r="2.2"/><circle cx="186.6" cy="160.9" r="2.2"/><circle cx="198.5" cy="142.3" r="2.2"/><circle cx="220.9" cy="174.7" r="2.2"/><circle cx="192.7" cy="153.0" r="2.2"/><circle cx="228.8" cy="167.3" r="2.2"/><circle cx="185.0" cy="161.8" r="2.2"/><circle cx="224.2" cy="175.3" r="2.2"/><circle cx="198.5" cy="141.8" r="2.2"/><circle cx="207.0" cy="169.4" r="2.2"/><circle cx="207.7" cy="171.4" r="2.2"/><circle cx="187.1" cy="146.4" r="2.2"/><circle cx="213.4" cy="167.7" r="2.2"/><circle cx="211.4" cy="154.6" r="2.2"/><circle cx="225.7" cy="153.7" r="2.2"/><circle cx="200.6" cy="171.5" r="2.2"/><circle cx="229.0" cy="141.4" r="2.2"/><circle cx="186.6" cy="158.1" r="2.2"/><circle cx="228.9" cy="148.4" r="2.2"/><circle cx="227.6" cy="170.7" r="2.2"/><circle cx="206.6" cy="164.5" r="2.2"/><circle cx="226.8" cy="149.4" r="2.2"/><circle cx="197.2" cy="147.0" r="2.2"/><circle cx="204.6" cy="152.4" r="2.2"/><circle cx="197.3" cy="153.8" r="2.2"/><circle cx="227.0" cy="176.8" r="2.2"/><circle cx="192.1" cy="147.8" r="2.2"/><circle cx="188.1" cy="171.1" r="2.2"/><circle cx="211.1" cy="143.4" r="2.2"/><circle cx="219.0" cy="176.3" r="2.2"/><circle cx="203.2" cy="174.1" r="2.2"/><circle cx="191.8" cy="162.3" r="2.2"/><circle cx="225.5" cy="167.9" r="2.2"/><circle cx="227.3" cy="170.6" r="2.2"/><circle cx="189.3" cy="164.6" r="2.2"/><circle cx="213.7" cy="162.4" r="2.2"/><circle cx="201.2" cy="165.2" r="2.2"/><circle cx="188.7" cy="168.9" r="2.2"/><circle cx="212.5" cy="143.6" r="2.2"/><circle cx="225.5" cy="163.7" r="2.2"/><circle cx="197.5" cy="143.6" r="2.2"/><circle cx="211.5" cy="167.6" r="2.2"/><circle cx="219.8" cy="146.8" r="2.2"/><circle cx="210.6" cy="146.5" r="2.2"/><circle cx="203.0" cy="147.3" r="2.2"/><circle cx="211.8" cy="164.0" r="2.2"/><circle cx="191.8" cy="140.3" r="2.2"/><circle cx="221.7" cy="141.5" r="2.2"/><circle cx="196.3" cy="174.9" r="2.2"/><circle cx="220.0" cy="186.3" r="2.2"/><circle cx="181.4" cy="195.9" r="2.2"/><circle cx="191.2" cy="200.3" r="2.2"/><circle cx="214.7" cy="210.0" r="2.2"/><circle cx="213.6" cy="196.9" r="2.2"/><circle cx="208.0" cy="211.4" r="2.2"/><circle cx="219.1" cy="211.0" r="2.2"/><circle cx="172.1" cy="177.7" r="2.2"/><circle cx="201.4" cy="201.9" r="2.2"/><circle cx="219.2" cy="195.1" r="2.2"/><circle cx="181.5" cy="189.5" r="2.2"/><circle cx="198.0" cy="211.8" r="2.2"/><circle cx="190.7" cy="190.1" r="2.2"/><circle cx="202.7" cy="203.7" r="2.2"/><circle cx="202.8" cy="204.2" r="2.2"/><circle cx="184.5" cy="179.8" r="2.2"/><circle cx="211.3" cy="180.4" r="2.2"/><circle cx="171.7" cy="185.7" r="2.2"/><circle cx="228.2" cy="194.2" r="2.2"/><circle cx="199.0" cy="191.6" r="2.2"/><circle cx="179.8" cy="182.5" r="2.2"/><circle cx="196.6" cy="212.9" r="2.2"/><circle cx="219.1" cy="189.0" r="2.2"/><circle cx="221.9" cy="211.7" r="2.2"/><circle cx="191.4" cy="204.4" r="2.2"/><circle cx="186.4" cy="191.1" r="2.2"/><circle cx="211.2" cy="208.1" r="2.2"/><circle cx="170.8" cy="178.5" r="2.2"/><circle cx="183.6" cy="188.8" r="2.2"/><circle cx="192.7" cy="210.9" r="2.2"/><circle cx="186.3" cy="176.1" r="2.2"/><circle cx="189.8" cy="179.8" r="2.2"/><circle cx="191.3" cy="177.4" r="2.2"/><circle cx="205.8" cy="203.5" r="2.2"/><circle cx="197.4" cy="211.4" r="2.2"/><circle cx="175.5" cy="182.5" r="2.2"/><circle cx="215.2" cy="203.8" r="2.2"/><circle cx="228.9" cy="198.3" r="2.2"/><circle cx="193.0" cy="193.7" r="2.2"/><circle cx="220.2" cy="200.8" r="2.2"/><circle cx="208.2" cy="183.2" r="2.2"/><circle cx="229.2" cy="209.7" r="2.2"/><circle cx="185.3" cy="177.6" r="2.2"/><circle cx="192.8" cy="187.2" r="2.2"/><circle cx="186.2" cy="175.9" r="2.2"/><circle cx="213.0" cy="181.8" r="2.2"/><circle cx="224.0" cy="201.5" r="2.2"/><circle cx="192.3" cy="209.4" r="2.2"/><circle cx="223.0" cy="207.9" r="2.2"/><circle cx="228.5" cy="193.0" r="2.2"/><circle cx="186.0" cy="204.1" r="2.2"/><circle cx="184.6" cy="182.6" r="2.2"/><circle cx="190.6" cy="174.9" r="2.2"/><circle cx="213.7" cy="188.8" r="2.2"/><circle cx="202.0" cy="203.6" r="2.2"/><circle cx="193.6" cy="191.7" r="2.2"/><circle cx="209.6" cy="184.0" r="2.2"/><circle cx="229.0" cy="206.8" r="2.2"/><circle cx="224.7" cy="204.1" r="2.2"/><circle cx="198.0" cy="206.3" r="2.2"/><circle cx="187.8" cy="195.0" r="2.2"/><circle cx="195.7" cy="179.1" r="2.2"/><circle cx="199.1" cy="211.9" r="2.2"/><circle cx="176.1" cy="181.0" r="2.2"/><circle cx="193.1" cy="198.5" r="2.2"/><circle cx="183.3" cy="199.7" r="2.2"/><circle cx="184.6" cy="202.5" r="2.2"/><circle cx="195.8" cy="194.5" r="2.2"/><circle cx="183.6" cy="175.8" r="2.2"/><circle cx="189.8" cy="178.3" r="2.2"/><circle cx="187.7" cy="191.0" r="2.2"/><circle cx="222.4" cy="191.6" r="2.2"/><circle cx="189.7" cy="188.8" r="2.2"/><circle cx="189.8" cy="198.5" r="2.2"/><circle cx="217.2" cy="210.8" r="2.2"/><circle cx="207.7" cy="203.7" r="2.2"/><circle cx="214.6" cy="207.3" r="2.2"/><circle cx="187.0" cy="177.2" r="2.2"/><circle cx="181.8" cy="199.5" r="2.2"/><circle cx="219.8" cy="215.3" r="2.2"/><circle cx="229.2" cy="187.6" r="2.2"/><circle cx="198.6" cy="187.3" r="2.2"/><circle cx="225.0" cy="191.9" r="2.2"/><circle cx="218.7" cy="212.4" r="2.2"/><circle cx="198.0" cy="205.6" r="2.2"/><circle cx="203.6" cy="209.2" r="2.2"/><circle cx="194.9" cy="180.7" r="2.2"/><circle cx="211.1" cy="209.4" r="2.2"/><circle cx="193.4" cy="199.1" r="2.2"/><circle cx="226.6" cy="187.7" r="2.2"/><circle cx="169.8" cy="173.8" r="2.2"/><circle cx="171.4" cy="174.8" r="2.2"/><circle cx="209.2" cy="205.1" r="2.2"/><circle cx="247.9" cy="142.0" r="2.2"/><circle cx="232.7" cy="140.3" r="2.2"/><circle cx="244.2" cy="145.5" r="2.2"/><circle cx="241.1" cy="145.9" r="2.2"/><circle cx="235.8" cy="158.1" r="2.2"/><circle cx="254.8" cy="146.7" r="2.2"/><circle cx="245.2" cy="144.6" r="2.2"/><circle cx="247.2" cy="140.5" r="2.2"/><circle cx="238.0" cy="146.2" r="2.2"/><circle cx="245.6" cy="158.6" r="2.2"/><circle cx="250.6" cy="151.6" r="2.2"/><circle cx="235.6" cy="140.7" r="2.2"/><circle cx="237.4" cy="141.9" r="2.2"/><circle cx="239.1" cy="145.7" r="2.2"/><circle cx="244.4" cy="156.5" r="2.2"/><circle cx="242.8" cy="144.2" r="2.2"/><circle cx="243.9" cy="140.3" r="2.2"/><circle cx="250.6" cy="153.4" r="2.2"/><circle cx="247.0" cy="144.5" r="2.2"/><circle cx="252.5" cy="152.6" r="2.2"/><circle cx="240.7" cy="145.0" r="2.2"/><circle cx="239.9" cy="154.1" r="2.2"/><circle cx="236.2" cy="140.8" r="2.2"/><circle cx="240.6" cy="159.2" r="2.2"/><circle cx="240.6" cy="157.3" r="2.2"/><circle cx="247.9" cy="145.2" r="2.2"/><circle cx="239.8" cy="141.8" r="2.2"/><circle cx="247.2" cy="149.8" r="2.2"/><circle cx="244.2" cy="156.0" r="2.2"/><circle cx="247.8" cy="145.6" r="2.2"/><circle cx="248.5" cy="147.4" r="2.2"/><circle cx="236.2" cy="153.4" r="2.2"/><circle cx="237.3" cy="156.8" r="2.2"/><circle cx="245.6" cy="151.7" r="2.2"/><circle cx="234.7" cy="154.6" r="2.2"/><circle cx="254.0" cy="148.7" r="2.2"/><circle cx="239.0" cy="140.5" r="2.2"/><circle cx="234.4" cy="149.6" r="2.2"/><circle cx="237.6" cy="158.7" r="2.2"/><circle cx="249.2" cy="140.5" r="2.2"/><circle cx="245.8" cy="156.0" r="2.2"/><circle cx="245.3" cy="146.2" r="2.2"/><circle cx="230.9" cy="149.7" r="2.2"/><circle cx="243.7" cy="154.0" r="2.2"/><circle cx="241.9" cy="142.9" r="2.2"/><circle cx="250.3" cy="143.8" r="2.2"/><circle cx="237.2" cy="151.0" r="2.2"/><circle cx="247.1" cy="154.7" r="2.2"/><circle cx="232.5" cy="149.2" r="2.2"/><circle cx="234.0" cy="160.9" r="2.2"/></g>
<line x1="27.3" y1="241.4" x2="321.2" y2="11.8" stroke="#ff7f0e" stroke-width="0.95"/>
<rect x="12.9" y="0" width="1.1" height="252.5" fill="#bdbdbd"/>
<rect x="335.9" y="0" width="1.1" height="252.5" fill="#bdbdbd"/>
<rect x="12.5" y="0" width="324.0" height="1" fill="#585858"/>
<rect x="12.5" y="252" width="324.0" height="1" fill="#666"/>
<g stroke="#666" stroke-width="0.9"><line x1="37.5" y1="252.8" x2="37.5" y2="255"/><line x1="88.6" y1="252.8" x2="88.6" y2="255"/><line x1="139.7" y1="252.8" x2="139.7" y2="255"/><line x1="190.9" y1="252.8" x2="190.9" y2="255"/><line x1="242.0" y1="252.8" x2="242.0" y2="255"/><line x1="293.1" y1="252.8" x2="293.1" y2="255"/><line x1="10.8" y1="233.4" x2="13" y2="233.4"/><line x1="10.8" y1="193.5" x2="13" y2="193.5"/><line x1="10.8" y1="153.6" x2="13" y2="153.6"/><line x1="10.8" y1="113.6" x2="13" y2="113.6"/><line x1="10.8" y1="73.7" x2="13" y2="73.7"/><line x1="10.8" y1="33.8" x2="13" y2="33.8"/></g>
<g font-family="Liberation Sans, sans-serif" font-size="7.0" fill="#111" stroke="#444" stroke-width="0.15" opacity="0.98"><text x="33.4" y="260.8" textLength="8.3" lengthAdjust="spacingAndGlyphs">0.2</text><text x="84.5" y="260.8" textLength="8.3" lengthAdjust="spacingAndGlyphs">0.4</text><text x="135.6" y="260.8" textLength="8.3" lengthAdjust="spacingAndGlyphs">0.6</text><text x="186.7" y="260.8" textLength="8.3" lengthAdjust="spacingAndGlyphs">0.8</text><text x="237.8" y="260.8" textLength="8.3" lengthAdjust="spacingAndGlyphs">1.0</text><text x="289.0" y="260.8" textLength="8.3" lengthAdjust="spacingAndGlyphs">1.2</text><text x="0.1" y="235.9" textLength="8.3" lengthAdjust="spacingAndGlyphs">0.2</text><text x="0.1" y="196.0" textLength="8.3" lengthAdjust="spacingAndGlyphs">0.4</text><text x="0.1" y="156.1" textLength="8.3" lengthAdjust="spacingAndGlyphs">0.6</text><text x="0.1" y="116.1" textLength="8.3" lengthAdjust="spacingAndGlyphs">0.8</text><text x="0.1" y="76.2" textLength="8.3" lengthAdjust="spacingAndGlyphs">1.0</text><text x="0.1" y="36.3" textLength="8.3" lengthAdjust="spacingAndGlyphs">1.2</text></g>
<clipPath id="cb"><rect x="364" y="4.4" width="320.0" height="249.1"/></clipPath>
<g fill="#1f77b4" clip-path="url(#cb)"><circle cx="379.2" cy="83.2" r="2.2"/><circle cx="393.0" cy="102.8" r="2.2"/><circle cx="415.4" cy="90.7" r="2.2"/><circle cx="424.3" cy="90.7" r="2.2"/><circle cx="425.2" cy="90.7" r="2.2"/><circle cx="433.6" cy="63.8" r="2.2"/><circle cx="442.3" cy="76.7" r="2.2"/><circle cx="432.9" cy="96.1" r="2.2"/><circle cx="435.2" cy="105.6" r="2.2"/><circle cx="436.9" cy="103.8" r="2.2"/><circle cx="432.4" cy="111.9" r="2.2"/><circle cx="420.8" cy="121.3" r="2.2"/><circle cx="432.4" cy="121.3" r="2.2"/><circle cx="437.1" cy="118.3" r="2.2"/><circle cx="446.7" cy="108.4" r="2.2"/><circle cx="457.4" cy="100.5" r="2.2"/><circle cx="455.6" cy="115.0" r="2.2"/><circle cx="464.9" cy="113.1" r="2.2"/><circle cx="469.8" cy="88.4" r="2.2"/><circle cx="474.5" cy="116.4" r="2.2"/><circle cx="477.5" cy="115.9" r="2.2"/><circle cx="478.9" cy="128.1" r="2.2"/><circle cx="475.2" cy="131.6" r="2.2"/><circle cx="477.1" cy="143.0" r="2.2"/><circle cx="484.1" cy="54.2" r="2.2"/><circle cx="496.5" cy="100.4" r="2.2"/><circle cx="514.7" cy="91.8" r="2.2"/><circle cx="511.4" cy="109.1" r="2.2"/><circle cx="517.6" cy="106.6" r="2.2"/><circle cx="518.3" cy="109.1" r="2.2"/><circle cx="523.2" cy="107.8" r="2.2"/><circle cx="527.0" cy="93.8" r="2.2"/><circle cx="527.9" cy="96.4" r="2.2"/><circle cx="529.0" cy="108.6" r="2.2"/><circle cx="531.7" cy="102.5" r="2.2"/><circle cx="534.1" cy="83.2" r="2.2"/><circle cx="541.1" cy="81.6" r="2.2"/><circle cx="544.4" cy="75.8" r="2.2"/><circle cx="543.2" cy="87.7" r="2.2"/><circle cx="544.7" cy="86.0" r="2.2"/><circle cx="551.5" cy="85.5" r="2.2"/><circle cx="549.3" cy="92.6" r="2.2"/><circle cx="552.6" cy="91.8" r="2.2"/><circle cx="555.1" cy="90.1" r="2.2"/><circle cx="556.7" cy="88.5" r="2.2"/><circle cx="554.6" cy="74.1" r="2.2"/><circle cx="559.2" cy="72.5" r="2.2"/><circle cx="559.7" cy="82.7" r="2.2"/><circle cx="563.8" cy="74.5" r="2.2"/><circle cx="564.2" cy="79.7" r="2.2"/><circle cx="568.3" cy="73.1" r="2.2"/><circle cx="573.2" cy="67.0" r="2.2"/><circle cx="575.7" cy="63.7" r="2.2"/><circle cx="577.4" cy="64.6" r="2.2"/><circle cx="536.1" cy="107.5" r="2.2"/><circle cx="538.6" cy="105.0" r="2.2"/><circle cx="543.5" cy="104.2" r="2.2"/><circle cx="547.7" cy="103.3" r="2.2"/><circle cx="551.0" cy="100.9" r="2.2"/><circle cx="612.1" cy="18.9" r="2.2"/><circle cx="611.4" cy="32.3" r="2.2"/><circle cx="633.2" cy="34.0" r="2.2"/><circle cx="641.8" cy="28.5" r="2.2"/><circle cx="641.8" cy="35.7" r="2.2"/><circle cx="649.0" cy="31.8" r="2.2"/><circle cx="670.1" cy="46.4" r="2.2"/><circle cx="645.2" cy="49.5" r="2.2"/><circle cx="635.3" cy="58.1" r="2.2"/><circle cx="636.6" cy="63.2" r="2.2"/><circle cx="636.6" cy="65.8" r="2.2"/><circle cx="654.1" cy="61.8" r="2.2"/><circle cx="652.9" cy="67.5" r="2.2"/><circle cx="653.8" cy="70.1" r="2.2"/><circle cx="631.1" cy="75.2" r="2.2"/><circle cx="632.3" cy="77.8" r="2.2"/><circle cx="634.9" cy="80.4" r="2.2"/><circle cx="626.3" cy="88.9" r="2.2"/><circle cx="629.8" cy="93.6" r="2.2"/><circle cx="625.0" cy="95.3" r="2.2"/><circle cx="621.2" cy="85.0" r="2.2"/><circle cx="622.9" cy="84.7" r="2.2"/><circle cx="617.8" cy="106.1" r="2.2"/><circle cx="610.9" cy="106.1" r="2.2"/><circle cx="606.6" cy="108.7" r="2.2"/><circle cx="604.0" cy="46.0" r="2.2"/><circle cx="600.6" cy="50.3" r="2.2"/><circle cx="602.3" cy="52.9" r="2.2"/><circle cx="605.7" cy="53.8" r="2.2"/><circle cx="607.5" cy="52.0" r="2.2"/><circle cx="609.2" cy="48.6" r="2.2"/><circle cx="617.8" cy="41.7" r="2.2"/><circle cx="616.9" cy="46.9" r="2.2"/><circle cx="621.2" cy="45.2" r="2.2"/><circle cx="622.9" cy="46.9" r="2.2"/><circle cx="623.8" cy="51.2" r="2.2"/><circle cx="625.5" cy="52.9" r="2.2"/><circle cx="621.2" cy="54.6" r="2.2"/><circle cx="622.0" cy="57.2" r="2.2"/><circle cx="626.3" cy="60.6" r="2.2"/><circle cx="624.6" cy="62.3" r="2.2"/><circle cx="614.3" cy="59.8" r="2.2"/><circle cx="616.9" cy="61.5" r="2.2"/><circle cx="619.5" cy="61.5" r="2.2"/><circle cx="581.7" cy="60.6" r="2.2"/><circle cx="592.0" cy="59.8" r="2.2"/><circle cx="596.3" cy="58.9" r="2.2"/><circle cx="600.6" cy="59.8" r="2.2"/><circle cx="585.1" cy="64.9" r="2.2"/><circle cx="590.3" cy="64.9" r="2.2"/><circle cx="602.3" cy="65.8" r="2.2"/><circle cx="614.3" cy="68.3" r="2.2"/><circle cx="617.8" cy="70.1" r="2.2"/><circle cx="620.3" cy="69.2" r="2.2"/><circle cx="610.9" cy="71.8" r="2.2"/><circle cx="612.6" cy="75.2" r="2.2"/><circle cx="616.0" cy="76.1" r="2.2"/><circle cx="617.8" cy="74.4" r="2.2"/><circle cx="607.5" cy="77.8" r="2.2"/><circle cx="611.7" cy="80.4" r="2.2"/><circle cx="607.5" cy="83.8" r="2.2"/><circle cx="610.0" cy="88.9" r="2.2"/><circle cx="612.6" cy="88.9" r="2.2"/><circle cx="614.3" cy="88.1" r="2.2"/><circle cx="605.7" cy="92.4" r="2.2"/><circle cx="602.3" cy="96.7" r="2.2"/><circle cx="600.6" cy="102.7" r="2.2"/><circle cx="605.7" cy="102.7" r="2.2"/><circle cx="483.3" cy="112.5" r="2.2"/><circle cx="487.9" cy="115.0" r="2.2"/><circle cx="483.0" cy="121.2" r="2.2"/><circle cx="491.9" cy="121.6" r="2.2"/><circle cx="497.8" cy="117.4" r="2.2"/><circle cx="503.9" cy="115.8" r="2.2"/><circle cx="480.0" cy="127.3" r="2.2"/><circle cx="524.2" cy="115.0" r="2.2"/><circle cx="508.9" cy="133.1" r="2.2"/><circle cx="513.0" cy="130.6" r="2.2"/><circle cx="515.5" cy="134.8" r="2.2"/><circle cx="511.4" cy="139.7" r="2.2"/><circle cx="514.7" cy="145.5" r="2.2"/><circle cx="519.1" cy="143.5" r="2.2"/><circle cx="523.7" cy="141.4" r="2.2"/><circle cx="525.4" cy="145.5" r="2.2"/><circle cx="527.9" cy="144.7" r="2.2"/><circle cx="526.2" cy="149.6" r="2.2"/><circle cx="529.5" cy="147.1" r="2.2"/><circle cx="532.0" cy="146.6" r="2.2"/><circle cx="509.4" cy="154.6" r="2.2"/><circle cx="518.4" cy="159.5" r="2.2"/><circle cx="513.8" cy="164.0" r="2.2"/><circle cx="527.7" cy="173.9" r="2.2"/><circle cx="534.1" cy="154.2" r="2.2"/><circle cx="537.8" cy="150.1" r="2.2"/><circle cx="542.4" cy="150.1" r="2.2"/><circle cx="544.4" cy="149.3" r="2.2"/><circle cx="552.1" cy="144.2" r="2.2"/><circle cx="572.4" cy="143.0" r="2.2"/><circle cx="546.0" cy="143.0" r="2.2"/><circle cx="577.0" cy="129.8" r="2.2"/><circle cx="518.0" cy="138.1" r="2.2"/><circle cx="521.3" cy="136.4" r="2.2"/><circle cx="524.6" cy="134.8" r="2.2"/><circle cx="519.6" cy="133.1" r="2.2"/><circle cx="600.6" cy="118.4" r="2.2"/><circle cx="594.1" cy="120.6" r="2.2"/><circle cx="587.2" cy="134.8" r="2.2"/><circle cx="581.4" cy="126.9" r="2.2"/><circle cx="586.9" cy="124.0" r="2.2"/><circle cx="587.7" cy="120.6" r="2.2"/><circle cx="583.4" cy="118.0" r="2.2"/><circle cx="609.8" cy="69.8" r="2.2"/><circle cx="611.8" cy="67.8" r="2.2"/><circle cx="614.4" cy="67.2" r="2.2"/><circle cx="617.1" cy="67.8" r="2.2"/><circle cx="619.0" cy="69.8" r="2.2"/><circle cx="609.8" cy="73.1" r="2.2"/><circle cx="611.1" cy="75.7" r="2.2"/><circle cx="613.8" cy="77.1" r="2.2"/><circle cx="616.4" cy="77.7" r="2.2"/><circle cx="619.0" cy="76.4" r="2.2"/><circle cx="607.2" cy="60.6" r="2.2"/><circle cx="611.1" cy="63.2" r="2.2"/><circle cx="616.4" cy="61.2" r="2.2"/><circle cx="620.4" cy="63.2" r="2.2"/><circle cx="623.0" cy="61.9" r="2.2"/><circle cx="626.3" cy="59.9" r="2.2"/><circle cx="620.4" cy="69.1" r="2.2"/><circle cx="607.2" cy="80.4" r="2.2"/><circle cx="609.8" cy="81.7" r="2.2"/><circle cx="612.4" cy="88.3" r="2.2"/><circle cx="613.8" cy="89.6" r="2.2"/><circle cx="611.1" cy="92.2" r="2.2"/><circle cx="607.2" cy="89.6" r="2.2"/><circle cx="604.5" cy="85.6" r="2.2"/><circle cx="605.8" cy="96.2" r="2.2"/><circle cx="611.1" cy="106.1" r="2.2"/><circle cx="607.2" cy="108.1" r="2.2"/><circle cx="601.2" cy="51.3" r="2.2"/><circle cx="603.2" cy="54.0" r="2.2"/><circle cx="605.8" cy="54.6" r="2.2"/><circle cx="608.5" cy="54.0" r="2.2"/><circle cx="600.0" cy="92.7" r="2.2"/><circle cx="583.5" cy="96.8" r="2.2"/><circle cx="554.6" cy="119.1" r="2.2"/><circle cx="575.3" cy="89.4" r="2.2"/><circle cx="598.3" cy="95.1" r="2.2"/><circle cx="590.0" cy="104.4" r="2.2"/><circle cx="558.5" cy="110.4" r="2.2"/><circle cx="551.0" cy="119.1" r="2.2"/><circle cx="597.4" cy="78.1" r="2.2"/><circle cx="544.9" cy="124.0" r="2.2"/><circle cx="557.1" cy="109.1" r="2.2"/><circle cx="590.0" cy="97.5" r="2.2"/><circle cx="547.6" cy="116.5" r="2.2"/><circle cx="580.8" cy="116.4" r="2.2"/><circle cx="600.2" cy="78.2" r="2.2"/><circle cx="594.9" cy="92.5" r="2.2"/><circle cx="593.7" cy="89.6" r="2.2"/><circle cx="587.5" cy="111.3" r="2.2"/><circle cx="580.6" cy="103.3" r="2.2"/><circle cx="593.8" cy="77.1" r="2.2"/><circle cx="584.3" cy="97.8" r="2.2"/><circle cx="581.3" cy="112.0" r="2.2"/><circle cx="551.3" cy="119.5" r="2.2"/><circle cx="579.2" cy="91.7" r="2.2"/><circle cx="553.8" cy="129.3" r="2.2"/><circle cx="555.8" cy="110.6" r="2.2"/><circle cx="585.3" cy="98.0" r="2.2"/><circle cx="577.4" cy="117.7" r="2.2"/><circle cx="598.2" cy="87.5" r="2.2"/><circle cx="580.8" cy="83.9" r="2.2"/><circle cx="594.3" cy="96.2" r="2.2"/><circle cx="592.7" cy="77.6" r="2.2"/><circle cx="575.2" cy="106.7" r="2.2"/><circle cx="555.7" cy="122.7" r="2.2"/><circle cx="595.8" cy="88.2" r="2.2"/><circle cx="559.1" cy="114.8" r="2.2"/><circle cx="593.9" cy="87.9" r="2.2"/><circle cx="561.3" cy="104.8" r="2.2"/><circle cx="564.4" cy="121.8" r="2.2"/><circle cx="590.8" cy="103.8" r="2.2"/><circle cx="563.1" cy="119.9" r="2.2"/><circle cx="563.6" cy="97.8" r="2.2"/><circle cx="602.0" cy="89.4" r="2.2"/><circle cx="558.5" cy="124.2" r="2.2"/><circle cx="575.3" cy="92.4" r="2.2"/><circle cx="566.6" cy="114.9" r="2.2"/><circle cx="563.3" cy="110.6" r="2.2"/><circle cx="602.7" cy="90.9" r="2.2"/><circle cx="572.8" cy="108.9" r="2.2"/><circle cx="576.5" cy="96.0" r="2.2"/><circle cx="594.1" cy="97.2" r="2.2"/><circle cx="581.8" cy="96.7" r="2.2"/><circle cx="567.3" cy="121.6" r="2.2"/><circle cx="573.7" cy="107.0" r="2.2"/><circle cx="550.6" cy="122.8" r="2.2"/><circle cx="561.7" cy="115.6" r="2.2"/><circle cx="570.3" cy="121.2" r="2.2"/><circle cx="570.1" cy="91.7" r="2.2"/><circle cx="580.4" cy="85.2" r="2.2"/><circle cx="547.3" cy="127.7" r="2.2"/><circle cx="581.8" cy="89.1" r="2.2"/><circle cx="591.9" cy="82.5" r="2.2"/><circle cx="592.9" cy="103.0" r="2.2"/><circle cx="574.5" cy="109.2" r="2.2"/><circle cx="583.8" cy="96.1" r="2.2"/><circle cx="585.3" cy="95.1" r="2.2"/><circle cx="582.4" cy="84.5" r="2.2"/><circle cx="574.5" cy="107.9" r="2.2"/><circle cx="543.7" cy="124.5" r="2.2"/><circle cx="589.8" cy="99.0" r="2.2"/><circle cx="596.1" cy="96.0" r="2.2"/><circle cx="571.1" cy="110.5" r="2.2"/><circle cx="584.0" cy="84.8" r="2.2"/><circle cx="594.8" cy="98.2" r="2.2"/><circle cx="555.2" cy="111.5" r="2.2"/><circle cx="575.8" cy="112.9" r="2.2"/><circle cx="556.9" cy="111.2" r="2.2"/><circle cx="544.0" cy="123.0" r="2.2"/><circle cx="601.4" cy="93.5" r="2.2"/><circle cx="560.4" cy="124.8" r="2.2"/><circle cx="579.5" cy="113.8" r="2.2"/><circle cx="567.6" cy="96.6" r="2.2"/><circle cx="570.4" cy="94.7" r="2.2"/><circle cx="579.6" cy="83.0" r="2.2"/><circle cx="565.6" cy="111.6" r="2.2"/><circle cx="558.1" cy="118.6" r="2.2"/><circle cx="574.9" cy="108.2" r="2.2"/><circle cx="578.1" cy="101.9" r="2.2"/><circle cx="541.5" cy="115.4" r="2.2"/><circle cx="570.1" cy="116.7" r="2.2"/><circle cx="545.1" cy="108.5" r="2.2"/><circle cx="571.1" cy="97.5" r="2.2"/><circle cx="557.5" cy="103.3" r="2.2"/><circle cx="576.5" cy="113.2" r="2.2"/><circle cx="558.5" cy="96.1" r="2.2"/><circle cx="562.2" cy="100.1" r="2.2"/><circle cx="568.5" cy="87.5" r="2.2"/><circle cx="542.4" cy="117.7" r="2.2"/><circle cx="551.7" cy="105.1" r="2.2"/><circle cx="570.6" cy="114.0" r="2.2"/><circle cx="555.6" cy="103.8" r="2.2"/><circle cx="561.6" cy="101.5" r="2.2"/><circle cx="551.9" cy="107.2" r="2.2"/><circle cx="578.1" cy="76.5" r="2.2"/><circle cx="576.3" cy="116.4" r="2.2"/><circle cx="558.6" cy="113.7" r="2.2"/><circle cx="578.7" cy="78.7" r="2.2"/><circle cx="551.8" cy="106.0" r="2.2"/><circle cx="551.1" cy="105.4" r="2.2"/><circle cx="550.6" cy="117.2" r="2.2"/><circle cx="536.7" cy="116.4" r="2.2"/><circle cx="555.0" cy="106.6" r="2.2"/><circle cx="554.3" cy="108.4" r="2.2"/><circle cx="578.2" cy="89.3" r="2.2"/><circle cx="570.5" cy="82.2" r="2.2"/><circle cx="572.5" cy="114.0" r="2.2"/><circle cx="552.4" cy="112.0" r="2.2"/><circle cx="566.8" cy="82.9" r="2.2"/><circle cx="569.3" cy="82.0" r="2.2"/><circle cx="574.3" cy="114.7" r="2.2"/><circle cx="565.2" cy="93.4" r="2.2"/><circle cx="559.8" cy="96.8" r="2.2"/><circle cx="576.9" cy="108.4" r="2.2"/><circle cx="555.8" cy="111.4" r="2.2"/><circle cx="578.9" cy="100.6" r="2.2"/><circle cx="568.7" cy="107.3" r="2.2"/><circle cx="543.1" cy="114.8" r="2.2"/><circle cx="576.4" cy="69.5" r="2.2"/><circle cx="563.1" cy="96.7" r="2.2"/><circle cx="555.5" cy="114.7" r="2.2"/><circle cx="547.4" cy="108.6" r="2.2"/><circle cx="576.6" cy="119.4" r="2.2"/><circle cx="566.7" cy="89.3" r="2.2"/><circle cx="560.8" cy="101.9" r="2.2"/><circle cx="576.4" cy="112.1" r="2.2"/><circle cx="579.5" cy="102.9" r="2.2"/><circle cx="566.1" cy="91.2" r="2.2"/><circle cx="552.8" cy="106.9" r="2.2"/><circle cx="570.2" cy="100.9" r="2.2"/><circle cx="579.2" cy="108.4" r="2.2"/><circle cx="573.5" cy="95.3" r="2.2"/><circle cx="578.9" cy="105.1" r="2.2"/><circle cx="564.7" cy="119.0" r="2.2"/><circle cx="557.7" cy="112.0" r="2.2"/><circle cx="570.2" cy="102.3" r="2.2"/><circle cx="560.5" cy="117.9" r="2.2"/><circle cx="564.4" cy="105.0" r="2.2"/><circle cx="557.6" cy="100.2" r="2.2"/><circle cx="573.9" cy="82.6" r="2.2"/><circle cx="571.3" cy="87.5" r="2.2"/><circle cx="571.4" cy="86.9" r="2.2"/><circle cx="538.1" cy="112.9" r="2.2"/><circle cx="578.4" cy="115.4" r="2.2"/><circle cx="573.3" cy="88.0" r="2.2"/><circle cx="549.8" cy="114.5" r="2.2"/><circle cx="564.8" cy="85.6" r="2.2"/><circle cx="554.5" cy="108.3" r="2.2"/><circle cx="556.1" cy="110.1" r="2.2"/><circle cx="579.2" cy="107.2" r="2.2"/><circle cx="573.8" cy="113.0" r="2.2"/><circle cx="555.8" cy="98.8" r="2.2"/><circle cx="559.1" cy="105.6" r="2.2"/><circle cx="579.1" cy="103.4" r="2.2"/><circle cx="551.9" cy="103.9" r="2.2"/><circle cx="568.3" cy="114.1" r="2.2"/><circle cx="574.5" cy="108.6" r="2.2"/><circle cx="544.1" cy="110.7" r="2.2"/><circle cx="549.3" cy="117.6" r="2.2"/><circle cx="570.8" cy="105.6" r="2.2"/><circle cx="558.7" cy="107.8" r="2.2"/><circle cx="537.4" cy="117.9" r="2.2"/><circle cx="565.7" cy="89.8" r="2.2"/><circle cx="563.4" cy="112.8" r="2.2"/><circle cx="572.4" cy="99.1" r="2.2"/><circle cx="540.2" cy="115.6" r="2.2"/><circle cx="553.6" cy="111.2" r="2.2"/><circle cx="538.3" cy="116.3" r="2.2"/><circle cx="577.7" cy="105.0" r="2.2"/><circle cx="547.9" cy="105.8" r="2.2"/><circle cx="559.4" cy="109.6" r="2.2"/><circle cx="575.9" cy="72.0" r="2.2"/><circle cx="562.0" cy="106.4" r="2.2"/><circle cx="569.4" cy="113.0" r="2.2"/><circle cx="565.6" cy="88.5" r="2.2"/><circle cx="539.2" cy="119.8" r="2.2"/><circle cx="557.1" cy="117.4" r="2.2"/><circle cx="561.7" cy="92.8" r="2.2"/><circle cx="572.0" cy="100.1" r="2.2"/><circle cx="570.3" cy="89.5" r="2.2"/><circle cx="558.4" cy="107.3" r="2.2"/><circle cx="562.9" cy="109.5" r="2.2"/><circle cx="574.3" cy="100.9" r="2.2"/><circle cx="570.4" cy="116.3" r="2.2"/><circle cx="562.8" cy="115.4" r="2.2"/><circle cx="575.0" cy="86.3" r="2.2"/><circle cx="565.4" cy="113.5" r="2.2"/><circle cx="560.0" cy="110.7" r="2.2"/><circle cx="566.4" cy="98.7" r="2.2"/><circle cx="554.0" cy="112.7" r="2.2"/><circle cx="563.0" cy="119.9" r="2.2"/><circle cx="577.8" cy="101.1" r="2.2"/><circle cx="569.5" cy="94.1" r="2.2"/><circle cx="570.8" cy="111.9" r="2.2"/><circle cx="566.3" cy="114.3" r="2.2"/><circle cx="558.0" cy="109.7" r="2.2"/><circle cx="566.0" cy="118.1" r="2.2"/><circle cx="561.0" cy="117.1" r="2.2"/><circle cx="561.7" cy="102.7" r="2.2"/><circle cx="578.1" cy="90.9" r="2.2"/><circle cx="578.3" cy="106.0" r="2.2"/><circle cx="554.6" cy="114.3" r="2.2"/><circle cx="556.9" cy="113.6" r="2.2"/><circle cx="579.5" cy="82.1" r="2.2"/><circle cx="566.4" cy="119.5" r="2.2"/><circle cx="570.4" cy="98.5" r="2.2"/><circle cx="566.3" cy="117.6" r="2.2"/><circle cx="564.8" cy="99.2" r="2.2"/><circle cx="565.4" cy="104.3" r="2.2"/><circle cx="568.7" cy="96.1" r="2.2"/><circle cx="577.4" cy="93.8" r="2.2"/><circle cx="568.9" cy="118.7" r="2.2"/><circle cx="555.6" cy="114.1" r="2.2"/><circle cx="555.3" cy="111.3" r="2.2"/><circle cx="557.2" cy="112.3" r="2.2"/><circle cx="566.7" cy="117.3" r="2.2"/><circle cx="575.0" cy="89.1" r="2.2"/><circle cx="554.6" cy="119.3" r="2.2"/><circle cx="556.1" cy="120.0" r="2.2"/><circle cx="573.2" cy="92.3" r="2.2"/><circle cx="570.0" cy="104.0" r="2.2"/><circle cx="575.2" cy="102.7" r="2.2"/><circle cx="558.2" cy="109.7" r="2.2"/><circle cx="570.5" cy="116.3" r="2.2"/><circle cx="569.9" cy="101.8" r="2.2"/><circle cx="572.5" cy="116.0" r="2.2"/><circle cx="557.3" cy="113.2" r="2.2"/><circle cx="564.6" cy="116.4" r="2.2"/><circle cx="570.4" cy="107.3" r="2.2"/><circle cx="601.4" cy="74.4" r="2.2"/><circle cx="589.5" cy="71.5" r="2.2"/><circle cx="582.4" cy="97.8" r="2.2"/><circle cx="586.3" cy="79.8" r="2.2"/><circle cx="588.7" cy="95.7" r="2.2"/><circle cx="603.7" cy="80.1" r="2.2"/><circle cx="597.0" cy="97.2" r="2.2"/><circle cx="592.1" cy="109.5" r="2.2"/><circle cx="599.6" cy="84.1" r="2.2"/><circle cx="585.1" cy="92.6" r="2.2"/><circle cx="583.3" cy="85.6" r="2.2"/><circle cx="600.3" cy="87.2" r="2.2"/><circle cx="603.3" cy="75.1" r="2.2"/><circle cx="585.6" cy="94.0" r="2.2"/><circle cx="593.4" cy="100.0" r="2.2"/><circle cx="580.7" cy="73.8" r="2.2"/><circle cx="599.8" cy="70.7" r="2.2"/><circle cx="598.8" cy="79.7" r="2.2"/><circle cx="600.4" cy="85.4" r="2.2"/><circle cx="585.3" cy="75.8" r="2.2"/><circle cx="600.5" cy="71.1" r="2.2"/><circle cx="587.6" cy="78.3" r="2.2"/><circle cx="591.2" cy="72.0" r="2.2"/><circle cx="586.6" cy="88.5" r="2.2"/><circle cx="580.3" cy="73.6" r="2.2"/><circle cx="593.6" cy="91.7" r="2.2"/><circle cx="602.0" cy="72.9" r="2.2"/><circle cx="605.4" cy="76.2" r="2.2"/><circle cx="593.9" cy="65.4" r="2.2"/><circle cx="595.6" cy="97.3" r="2.2"/><circle cx="590.8" cy="82.1" r="2.2"/><circle cx="586.0" cy="85.7" r="2.2"/><circle cx="600.6" cy="72.1" r="2.2"/><circle cx="581.4" cy="109.6" r="2.2"/><circle cx="599.5" cy="86.6" r="2.2"/><circle cx="596.8" cy="98.5" r="2.2"/><circle cx="604.5" cy="76.8" r="2.2"/><circle cx="605.4" cy="81.2" r="2.2"/><circle cx="601.1" cy="74.9" r="2.2"/><circle cx="599.2" cy="110.1" r="2.2"/><circle cx="594.1" cy="107.2" r="2.2"/><circle cx="597.4" cy="94.6" r="2.2"/><circle cx="581.3" cy="67.6" r="2.2"/><circle cx="587.3" cy="110.1" r="2.2"/><circle cx="591.9" cy="106.5" r="2.2"/><circle cx="588.0" cy="111.2" r="2.2"/><circle cx="591.5" cy="75.9" r="2.2"/><circle cx="605.0" cy="77.2" r="2.2"/><circle cx="580.2" cy="111.5" r="2.2"/><circle cx="582.0" cy="83.8" r="2.2"/><circle cx="587.9" cy="104.7" r="2.2"/><circle cx="581.9" cy="78.8" r="2.2"/><circle cx="593.1" cy="68.1" r="2.2"/><circle cx="580.5" cy="89.5" r="2.2"/><circle cx="594.8" cy="102.1" r="2.2"/><circle cx="588.3" cy="81.9" r="2.2"/><circle cx="586.7" cy="79.0" r="2.2"/><circle cx="585.3" cy="105.4" r="2.2"/><circle cx="590.5" cy="95.1" r="2.2"/><circle cx="591.7" cy="94.2" r="2.2"/><circle cx="590.1" cy="109.0" r="2.2"/><circle cx="589.7" cy="99.7" r="2.2"/><circle cx="601.9" cy="73.7" r="2.2"/><circle cx="580.6" cy="77.7" r="2.2"/><circle cx="588.7" cy="81.5" r="2.2"/><circle cx="597.2" cy="103.9" r="2.2"/><circle cx="595.0" cy="87.1" r="2.2"/><circle cx="592.2" cy="91.6" r="2.2"/><circle cx="597.0" cy="67.4" r="2.2"/><circle cx="605.2" cy="76.5" r="2.2"/><circle cx="582.9" cy="89.6" r="2.2"/><circle cx="582.1" cy="90.8" r="2.2"/><circle cx="589.5" cy="109.4" r="2.2"/><circle cx="583.9" cy="81.2" r="2.2"/><circle cx="589.1" cy="70.3" r="2.2"/><circle cx="581.0" cy="113.5" r="2.2"/><circle cx="591.9" cy="78.5" r="2.2"/><circle cx="588.5" cy="105.0" r="2.2"/><circle cx="598.6" cy="90.5" r="2.2"/><circle cx="594.3" cy="77.6" r="2.2"/><circle cx="581.7" cy="108.8" r="2.2"/><circle cx="582.5" cy="88.7" r="2.2"/><circle cx="590.9" cy="82.4" r="2.2"/><circle cx="581.4" cy="67.9" r="2.2"/><circle cx="585.8" cy="70.7" r="2.2"/><circle cx="602.7" cy="80.1" r="2.2"/><circle cx="601.5" cy="75.9" r="2.2"/><circle cx="600.5" cy="82.9" r="2.2"/><circle cx="580.2" cy="105.9" r="2.2"/><circle cx="595.9" cy="87.0" r="2.2"/><circle cx="587.2" cy="112.3" r="2.2"/><circle cx="602.6" cy="87.8" r="2.2"/><circle cx="589.7" cy="87.3" r="2.2"/><circle cx="580.1" cy="67.1" r="2.2"/><circle cx="600.5" cy="109.2" r="2.2"/><circle cx="585.6" cy="93.2" r="2.2"/><circle cx="586.9" cy="77.6" r="2.2"/><circle cx="604.0" cy="84.7" r="2.2"/><circle cx="581.6" cy="83.6" r="2.2"/><circle cx="590.2" cy="96.6" r="2.2"/><circle cx="586.5" cy="109.7" r="2.2"/><circle cx="585.1" cy="78.2" r="2.2"/><circle cx="592.8" cy="101.3" r="2.2"/><circle cx="594.1" cy="68.3" r="2.2"/><circle cx="601.4" cy="98.8" r="2.2"/><circle cx="597.5" cy="108.9" r="2.2"/><circle cx="589.2" cy="88.0" r="2.2"/><circle cx="595.5" cy="103.9" r="2.2"/><circle cx="599.4" cy="85.7" r="2.2"/><circle cx="596.4" cy="97.4" r="2.2"/><circle cx="601.8" cy="94.5" r="2.2"/><circle cx="598.2" cy="88.7" r="2.2"/><circle cx="595.7" cy="69.2" r="2.2"/><circle cx="600.8" cy="73.8" r="2.2"/><circle cx="580.3" cy="99.1" r="2.2"/><circle cx="582.2" cy="104.7" r="2.2"/><circle cx="591.2" cy="78.4" r="2.2"/><circle cx="590.1" cy="107.0" r="2.2"/><circle cx="595.3" cy="84.3" r="2.2"/><circle cx="591.7" cy="82.6" r="2.2"/><circle cx="584.2" cy="89.1" r="2.2"/><circle cx="580.2" cy="97.7" r="2.2"/><circle cx="583.8" cy="98.7" r="2.2"/><circle cx="581.1" cy="91.9" r="2.2"/><circle cx="585.1" cy="82.2" r="2.2"/><circle cx="598.3" cy="88.8" r="2.2"/><circle cx="594.4" cy="107.9" r="2.2"/><circle cx="581.0" cy="110.0" r="2.2"/><circle cx="582.1" cy="110.1" r="2.2"/><circle cx="583.9" cy="90.3" r="2.2"/><circle cx="583.8" cy="90.1" r="2.2"/><circle cx="590.1" cy="83.5" r="2.2"/><circle cx="583.3" cy="99.9" r="2.2"/><circle cx="590.3" cy="78.1" r="2.2"/><circle cx="583.1" cy="112.4" r="2.2"/><circle cx="589.2" cy="107.9" r="2.2"/><circle cx="590.9" cy="101.9" r="2.2"/><circle cx="592.7" cy="91.3" r="2.2"/><circle cx="593.8" cy="111.9" r="2.2"/><circle cx="588.0" cy="100.2" r="2.2"/><circle cx="588.1" cy="98.0" r="2.2"/><circle cx="592.8" cy="113.9" r="2.2"/><circle cx="589.0" cy="87.1" r="2.2"/><circle cx="594.0" cy="80.1" r="2.2"/><circle cx="585.7" cy="91.5" r="2.2"/><circle cx="598.4" cy="88.1" r="2.2"/><circle cx="589.9" cy="90.3" r="2.2"/><circle cx="588.0" cy="101.6" r="2.2"/><circle cx="591.9" cy="107.7" r="2.2"/><circle cx="591.5" cy="78.1" r="2.2"/><circle cx="590.8" cy="96.0" r="2.2"/><circle cx="582.3" cy="84.6" r="2.2"/><circle cx="583.1" cy="88.8" r="2.2"/><circle cx="591.5" cy="80.7" r="2.2"/><circle cx="594.3" cy="90.4" r="2.2"/><circle cx="592.1" cy="102.6" r="2.2"/><circle cx="585.8" cy="102.3" r="2.2"/><circle cx="593.3" cy="103.6" r="2.2"/><circle cx="594.1" cy="83.4" r="2.2"/><circle cx="588.2" cy="100.6" r="2.2"/><circle cx="591.2" cy="84.2" r="2.2"/><circle cx="584.7" cy="109.9" r="2.2"/><circle cx="574.5" cy="123.1" r="2.2"/><circle cx="569.3" cy="114.3" r="2.2"/><circle cx="531.1" cy="131.3" r="2.2"/><circle cx="544.9" cy="115.2" r="2.2"/><circle cx="547.5" cy="119.0" r="2.2"/><circle cx="542.9" cy="117.9" r="2.2"/><circle cx="578.0" cy="120.6" r="2.2"/><circle cx="573.8" cy="118.4" r="2.2"/><circle cx="556.3" cy="111.4" r="2.2"/><circle cx="546.8" cy="140.3" r="2.2"/><circle cx="571.3" cy="125.0" r="2.2"/><circle cx="576.4" cy="122.5" r="2.2"/><circle cx="546.2" cy="133.6" r="2.2"/><circle cx="534.6" cy="139.8" r="2.2"/><circle cx="571.4" cy="112.9" r="2.2"/><circle cx="530.4" cy="122.1" r="2.2"/><circle cx="542.6" cy="112.7" r="2.2"/><circle cx="548.6" cy="116.0" r="2.2"/><circle cx="537.7" cy="134.5" r="2.2"/><circle cx="579.8" cy="124.1" r="2.2"/><circle cx="547.8" cy="131.0" r="2.2"/><circle cx="542.4" cy="142.6" r="2.2"/><circle cx="564.5" cy="114.0" r="2.2"/><circle cx="575.3" cy="116.5" r="2.2"/><circle cx="562.4" cy="127.4" r="2.2"/><circle cx="561.2" cy="137.1" r="2.2"/><circle cx="546.4" cy="118.4" r="2.2"/><circle cx="558.6" cy="121.1" r="2.2"/><circle cx="548.4" cy="134.0" r="2.2"/><circle cx="578.7" cy="122.3" r="2.2"/><circle cx="523.5" cy="134.7" r="2.2"/><circle cx="573.8" cy="110.5" r="2.2"/><circle cx="540.0" cy="123.1" r="2.2"/><circle cx="557.2" cy="136.3" r="2.2"/><circle cx="578.5" cy="125.3" r="2.2"/><circle cx="538.1" cy="132.6" r="2.2"/><circle cx="550.5" cy="125.0" r="2.2"/><circle cx="578.3" cy="121.1" r="2.2"/><circle cx="551.0" cy="130.8" r="2.2"/><circle cx="541.1" cy="119.3" r="2.2"/><circle cx="540.3" cy="117.1" r="2.2"/><circle cx="556.1" cy="135.1" r="2.2"/><circle cx="566.9" cy="128.1" r="2.2"/><circle cx="534.7" cy="129.7" r="2.2"/><circle cx="578.6" cy="123.9" r="2.2"/><circle cx="569.4" cy="116.9" r="2.2"/><circle cx="539.2" cy="120.8" r="2.2"/><circle cx="569.4" cy="128.5" r="2.2"/><circle cx="531.8" cy="113.8" r="2.2"/><circle cx="573.3" cy="121.1" r="2.2"/><circle cx="552.1" cy="111.1" r="2.2"/><circle cx="535.2" cy="127.6" r="2.2"/><circle cx="574.7" cy="117.0" r="2.2"/><circle cx="532.6" cy="135.5" r="2.2"/><circle cx="539.7" cy="122.9" r="2.2"/><circle cx="553.0" cy="124.2" r="2.2"/><circle cx="542.6" cy="136.4" r="2.2"/><circle cx="557.8" cy="116.4" r="2.2"/><circle cx="570.3" cy="132.2" r="2.2"/><circle cx="547.6" cy="120.7" r="2.2"/><circle cx="547.3" cy="121.6" r="2.2"/><circle cx="561.7" cy="114.4" r="2.2"/><circle cx="559.9" cy="136.2" r="2.2"/><circle cx="536.9" cy="116.0" r="2.2"/><circle cx="557.8" cy="119.4" r="2.2"/><circle cx="570.1" cy="121.5" r="2.2"/><circle cx="551.3" cy="116.1" r="2.2"/><circle cx="533.1" cy="132.0" r="2.2"/><circle cx="567.8" cy="118.1" r="2.2"/><circle cx="560.6" cy="137.4" r="2.2"/><circle cx="533.8" cy="127.5" r="2.2"/><circle cx="559.0" cy="134.6" r="2.2"/><circle cx="535.6" cy="128.4" r="2.2"/><circle cx="563.6" cy="120.6" r="2.2"/><circle cx="531.3" cy="138.0" r="2.2"/><circle cx="558.9" cy="117.0" r="2.2"/><circle cx="566.1" cy="130.8" r="2.2"/><circle cx="526.5" cy="134.6" r="2.2"/><circle cx="565.2" cy="130.6" r="2.2"/><circle cx="549.8" cy="136.7" r="2.2"/><circle cx="524.6" cy="132.7" r="2.2"/><circle cx="536.3" cy="113.1" r="2.2"/><circle cx="536.9" cy="138.3" r="2.2"/><circle cx="571.1" cy="127.0" r="2.2"/><circle cx="542.9" cy="117.6" r="2.2"/><circle cx="537.8" cy="140.3" r="2.2"/><circle cx="561.2" cy="133.4" r="2.2"/><circle cx="539.9" cy="116.0" r="2.2"/><circle cx="559.7" cy="131.3" r="2.2"/><circle cx="553.4" cy="128.0" r="2.2"/><circle cx="576.1" cy="120.7" r="2.2"/><circle cx="533.6" cy="134.9" r="2.2"/><circle cx="550.5" cy="131.8" r="2.2"/><circle cx="539.4" cy="117.3" r="2.2"/><circle cx="527.0" cy="137.6" r="2.2"/><circle cx="568.9" cy="119.0" r="2.2"/><circle cx="573.8" cy="113.2" r="2.2"/><circle cx="525.7" cy="132.2" r="2.2"/><circle cx="565.1" cy="135.7" r="2.2"/><circle cx="540.7" cy="123.5" r="2.2"/><circle cx="540.5" cy="136.5" r="2.2"/><circle cx="567.7" cy="113.0" r="2.2"/><circle cx="567.1" cy="117.6" r="2.2"/><circle cx="555.4" cy="118.3" r="2.2"/><circle cx="541.7" cy="135.7" r="2.2"/><circle cx="535.5" cy="132.4" r="2.2"/><circle cx="576.6" cy="118.0" r="2.2"/><circle cx="527.2" cy="135.5" r="2.2"/><circle cx="537.9" cy="127.9" r="2.2"/><circle cx="541.7" cy="113.2" r="2.2"/><circle cx="530.5" cy="135.5" r="2.2"/><circle cx="523.7" cy="132.7" r="2.2"/><circle cx="537.0" cy="124.8" r="2.2"/><circle cx="566.6" cy="128.1" r="2.2"/><circle cx="543.7" cy="132.8" r="2.2"/><circle cx="537.5" cy="113.4" r="2.2"/><circle cx="577.1" cy="117.6" r="2.2"/><circle cx="549.5" cy="124.6" r="2.2"/><circle cx="537.3" cy="137.5" r="2.2"/><circle cx="542.9" cy="142.5" r="2.2"/><circle cx="548.4" cy="110.0" r="2.2"/><circle cx="536.6" cy="134.4" r="2.2"/><circle cx="555.9" cy="116.5" r="2.2"/><circle cx="563.9" cy="127.1" r="2.2"/><circle cx="552.8" cy="117.8" r="2.2"/><circle cx="551.4" cy="123.0" r="2.2"/><circle cx="549.3" cy="139.6" r="2.2"/><circle cx="548.6" cy="123.5" r="2.2"/><circle cx="578.1" cy="114.7" r="2.2"/><circle cx="563.0" cy="116.7" r="2.2"/><circle cx="533.0" cy="120.9" r="2.2"/><circle cx="532.0" cy="113.5" r="2.2"/><circle cx="541.0" cy="120.3" r="2.2"/><circle cx="538.8" cy="117.9" r="2.2"/><circle cx="555.5" cy="111.9" r="2.2"/><circle cx="535.5" cy="135.3" r="2.2"/><circle cx="552.7" cy="115.9" r="2.2"/><circle cx="573.5" cy="126.9" r="2.2"/><circle cx="539.8" cy="139.9" r="2.2"/><circle cx="538.8" cy="113.6" r="2.2"/><circle cx="574.4" cy="116.7" r="2.2"/><circle cx="555.2" cy="115.0" r="2.2"/><circle cx="552.5" cy="130.6" r="2.2"/><circle cx="575.6" cy="114.0" r="2.2"/><circle cx="543.7" cy="127.0" r="2.2"/><circle cx="573.8" cy="119.1" r="2.2"/><circle cx="574.3" cy="111.9" r="2.2"/><circle cx="564.9" cy="113.8" r="2.2"/><circle cx="574.7" cy="117.0" r="2.2"/><circle cx="571.4" cy="112.6" r="2.2"/><circle cx="578.1" cy="125.1" r="2.2"/><circle cx="575.6" cy="110.6" r="2.2"/><circle cx="542.8" cy="120.2" r="2.2"/><circle cx="573.1" cy="126.7" r="2.2"/><circle cx="564.7" cy="110.2" r="2.2"/><circle cx="572.5" cy="118.0" r="2.2"/><circle cx="556.3" cy="125.5" r="2.2"/><circle cx="546.1" cy="124.5" r="2.2"/><circle cx="563.1" cy="115.1" r="2.2"/><circle cx="564.0" cy="128.2" r="2.2"/><circle cx="550.9" cy="111.2" r="2.2"/><circle cx="556.8" cy="126.9" r="2.2"/><circle cx="569.4" cy="124.9" r="2.2"/><circle cx="576.4" cy="116.4" r="2.2"/><circle cx="557.4" cy="124.9" r="2.2"/><circle cx="559.6" cy="116.6" r="2.2"/><circle cx="567.2" cy="113.8" r="2.2"/><circle cx="574.8" cy="116.6" r="2.2"/><circle cx="553.0" cy="115.0" r="2.2"/><circle cx="543.6" cy="116.2" r="2.2"/><circle cx="559.2" cy="122.8" r="2.2"/><circle cx="547.7" cy="116.1" r="2.2"/><circle cx="550.8" cy="128.1" r="2.2"/><circle cx="567.6" cy="117.9" r="2.2"/><circle cx="574.7" cy="114.6" r="2.2"/><circle cx="549.5" cy="128.4" r="2.2"/><circle cx="546.8" cy="118.9" r="2.2"/><circle cx="568.2" cy="114.7" r="2.2"/><circle cx="560.4" cy="111.4" r="2.2"/><circle cx="550.9" cy="126.0" r="2.2"/><circle cx="576.4" cy="118.3" r="2.2"/><circle cx="560.3" cy="118.4" r="2.2"/><circle cx="570.2" cy="112.1" r="2.2"/><circle cx="562.0" cy="121.7" r="2.2"/><circle cx="570.8" cy="110.3" r="2.2"/><circle cx="572.6" cy="116.0" r="2.2"/><circle cx="541.3" cy="118.0" r="2.2"/><circle cx="561.9" cy="116.2" r="2.2"/><circle cx="559.9" cy="120.1" r="2.2"/><circle cx="560.7" cy="121.1" r="2.2"/><circle cx="562.3" cy="113.6" r="2.2"/><circle cx="565.3" cy="121.0" r="2.2"/><circle cx="578.2" cy="116.2" r="2.2"/><circle cx="551.5" cy="119.3" r="2.2"/><circle cx="579.0" cy="123.1" r="2.2"/><circle cx="578.8" cy="113.2" r="2.2"/><circle cx="587.1" cy="113.2" r="2.2"/><circle cx="592.7" cy="113.2" r="2.2"/><circle cx="602.8" cy="103.9" r="2.2"/><circle cx="594.8" cy="101.1" r="2.2"/><circle cx="600.9" cy="105.3" r="2.2"/><circle cx="592.3" cy="110.1" r="2.2"/><circle cx="601.7" cy="103.9" r="2.2"/><circle cx="587.4" cy="109.6" r="2.2"/><circle cx="597.1" cy="104.7" r="2.2"/><circle cx="592.6" cy="112.2" r="2.2"/><circle cx="595.5" cy="103.8" r="2.2"/><circle cx="593.8" cy="106.5" r="2.2"/><circle cx="581.6" cy="103.7" r="2.2"/><circle cx="588.7" cy="114.4" r="2.2"/><circle cx="583.1" cy="103.2" r="2.2"/><circle cx="593.6" cy="106.3" r="2.2"/><circle cx="588.6" cy="105.7" r="2.2"/><circle cx="581.7" cy="113.3" r="2.2"/><circle cx="591.7" cy="109.7" r="2.2"/><circle cx="593.8" cy="113.3" r="2.2"/><circle cx="592.0" cy="107.1" r="2.2"/><circle cx="583.6" cy="113.2" r="2.2"/><circle cx="584.9" cy="114.4" r="2.2"/><circle cx="581.2" cy="107.2" r="2.2"/><circle cx="595.9" cy="102.7" r="2.2"/><circle cx="583.3" cy="112.9" r="2.2"/><circle cx="588.3" cy="107.6" r="2.2"/><circle cx="582.2" cy="105.4" r="2.2"/><circle cx="587.2" cy="110.0" r="2.2"/><circle cx="585.8" cy="104.2" r="2.2"/><circle cx="588.8" cy="101.4" r="2.2"/></g>
<line x1="379.1" y1="242.1" x2="669.5" y2="15.6" stroke="#ff7f0e" stroke-width="0.95"/>
<rect x="363.9" y="4.4" width="1.1" height="249.6" fill="#bdbdbd"/>
<rect x="683.4" y="4.4" width="1.4" height="249.6" fill="#7a7a7a"/>
<rect x="363.5" y="3.9" width="321.0" height="1" fill="#666"/>
<rect x="363.5" y="253" width="321.0" height="1" fill="#888"/>
<g stroke="#666" stroke-width="0.9"><line x1="379.1" y1="254" x2="379.1" y2="256.3"/><line x1="428.0" y1="254" x2="428.0" y2="256.3"/><line x1="476.8" y1="254" x2="476.8" y2="256.3"/><line x1="525.7" y1="254" x2="525.7" y2="256.3"/><line x1="574.5" y1="254" x2="574.5" y2="256.3"/><line x1="623.4" y1="254" x2="623.4" y2="256.3"/><line x1="672.2" y1="254" x2="672.2" y2="256.3"/><line x1="362.4" y1="242.1" x2="364.2" y2="242.1"/><line x1="362.4" y1="204.0" x2="364.2" y2="204.0"/><line x1="362.4" y1="165.9" x2="364.2" y2="165.9"/><line x1="362.4" y1="127.8" x2="364.2" y2="127.8"/><line x1="362.4" y1="89.7" x2="364.2" y2="89.7"/><line x1="362.4" y1="51.6" x2="364.2" y2="51.6"/><line x1="362.4" y1="13.5" x2="364.2" y2="13.5"/></g>
<g font-family="Liberation Sans, sans-serif" font-size="6.6" fill="#111" stroke="#444" stroke-width="0.15" opacity="0.98"><text x="372.6" y="262.0" textLength="13.0" lengthAdjust="spacingAndGlyphs">−0.2</text><text x="424.0" y="262.0" textLength="8.0" lengthAdjust="spacingAndGlyphs">0.0</text><text x="472.8" y="262.0" textLength="8.0" lengthAdjust="spacingAndGlyphs">0.2</text><text x="521.7" y="262.0" textLength="8.0" lengthAdjust="spacingAndGlyphs">0.4</text><text x="570.5" y="262.0" textLength="8.0" lengthAdjust="spacingAndGlyphs">0.6</text><text x="619.4" y="262.0" textLength="8.0" lengthAdjust="spacingAndGlyphs">0.8</text><text x="668.2" y="262.0" textLength="8.0" lengthAdjust="spacingAndGlyphs">1.0</text><text x="346.3" y="244.3" textLength="13.0" lengthAdjust="spacingAndGlyphs">−0.2</text><text x="351.3" y="206.2" textLength="8.0" lengthAdjust="spacingAndGlyphs">0.0</text><text x="351.3" y="168.1" textLength="8.0" lengthAdjust="spacingAndGlyphs">0.2</text><text x="351.3" y="130.0" textLength="8.0" lengthAdjust="spacingAndGlyphs">0.4</text><text x="351.3" y="91.9" textLength="8.0" lengthAdjust="spacingAndGlyphs">0.6</text><text x="351.3" y="53.8" textLength="8.0" lengthAdjust="spacingAndGlyphs">0.8</text><text x="351.3" y="15.7" textLength="8.0" lengthAdjust="spacingAndGlyphs">1.0</text></g>
<clipPath id="cc"><rect x="187.4" y="306.6" width="323.4" height="252.2"/></clipPath>
<g fill="#1f77b4" clip-path="url(#cc)"><circle cx="201.7" cy="412.1" r="2.2"/><circle cx="201.3" cy="422.9" r="2.2"/><circle cx="234.0" cy="396.3" r="2.2"/><circle cx="280.0" cy="411.1" r="2.2"/><circle cx="268.7" cy="424.6" r="2.2"/><circle cx="269.3" cy="429.5" r="2.2"/><circle cx="281.0" cy="432.5" r="2.2"/><circle cx="295.9" cy="440.5" r="2.2"/><circle cx="309.6" cy="405.5" r="2.2"/><circle cx="311.0" cy="449.7" r="2.2"/><circle cx="253.0" cy="464.8" r="2.2"/><circle cx="407.8" cy="339.7" r="2.2"/><circle cx="398.4" cy="347.6" r="2.2"/><circle cx="414.1" cy="354.9" r="2.2"/><circle cx="392.6" cy="358.7" r="2.2"/><circle cx="396.4" cy="362.5" r="2.2"/><circle cx="394.3" cy="369.1" r="2.2"/><circle cx="406.6" cy="368.6" r="2.2"/><circle cx="413.2" cy="363.6" r="2.2"/><circle cx="414.9" cy="362.0" r="2.2"/><circle cx="379.1" cy="373.0" r="2.2"/><circle cx="358.0" cy="377.7" r="2.2"/><circle cx="364.9" cy="388.4" r="2.2"/><circle cx="350.5" cy="395.0" r="2.2"/><circle cx="356.0" cy="395.0" r="2.2"/><circle cx="362.1" cy="399.9" r="2.2"/><circle cx="374.5" cy="402.1" r="2.2"/><circle cx="377.8" cy="385.1" r="2.2"/><circle cx="381.1" cy="385.6" r="2.2"/><circle cx="379.4" cy="390.9" r="2.2"/><circle cx="381.9" cy="390.4" r="2.2"/><circle cx="379.1" cy="395.8" r="2.2"/><circle cx="382.7" cy="400.8" r="2.2"/><circle cx="391.8" cy="380.1" r="2.2"/><circle cx="395.1" cy="379.3" r="2.2"/><circle cx="393.4" cy="384.3" r="2.2"/><circle cx="397.6" cy="387.6" r="2.2"/><circle cx="401.7" cy="376.8" r="2.2"/><circle cx="405.0" cy="377.7" r="2.2"/><circle cx="387.7" cy="395.8" r="2.2"/><circle cx="389.3" cy="399.9" r="2.2"/><circle cx="456.2" cy="317.8" r="2.2"/><circle cx="473.2" cy="321.1" r="2.2"/><circle cx="494.7" cy="320.2" r="2.2"/><circle cx="466.4" cy="330.1" r="2.2"/><circle cx="479.6" cy="330.6" r="2.2"/><circle cx="466.1" cy="335.9" r="2.2"/><circle cx="488.9" cy="335.9" r="2.2"/><circle cx="481.3" cy="342.2" r="2.2"/><circle cx="496.6" cy="353.7" r="2.2"/><circle cx="487.1" cy="360.3" r="2.2"/><circle cx="472.7" cy="359.2" r="2.2"/><circle cx="476.8" cy="359.5" r="2.2"/><circle cx="476.0" cy="355.4" r="2.2"/><circle cx="478.5" cy="348.8" r="2.2"/><circle cx="420.2" cy="333.1" r="2.2"/><circle cx="432.6" cy="334.8" r="2.2"/><circle cx="426.5" cy="338.9" r="2.2"/><circle cx="418.3" cy="343.8" r="2.2"/><circle cx="421.6" cy="346.6" r="2.2"/><circle cx="428.5" cy="346.3" r="2.2"/><circle cx="433.9" cy="348.3" r="2.2"/><circle cx="438.9" cy="348.8" r="2.2"/><circle cx="441.4" cy="341.4" r="2.2"/><circle cx="443.0" cy="344.7" r="2.2"/><circle cx="451.3" cy="337.7" r="2.2"/><circle cx="449.6" cy="343.0" r="2.2"/><circle cx="450.4" cy="345.5" r="2.2"/><circle cx="452.1" cy="347.1" r="2.2"/><circle cx="457.9" cy="346.3" r="2.2"/><circle cx="462.0" cy="344.7" r="2.2"/><circle cx="462.8" cy="349.6" r="2.2"/><circle cx="464.5" cy="348.8" r="2.2"/><circle cx="467.8" cy="349.6" r="2.2"/><circle cx="462.8" cy="353.7" r="2.2"/><circle cx="459.5" cy="351.3" r="2.2"/><circle cx="419.9" cy="354.6" r="2.2"/><circle cx="421.6" cy="359.5" r="2.2"/><circle cx="416.6" cy="362.8" r="2.2"/><circle cx="472.7" cy="372.7" r="2.2"/><circle cx="473.5" cy="376.0" r="2.2"/><circle cx="473.5" cy="379.3" r="2.2"/><circle cx="471.9" cy="382.6" r="2.2"/><circle cx="469.4" cy="385.1" r="2.2"/><circle cx="466.1" cy="366.9" r="2.2"/><circle cx="466.9" cy="370.2" r="2.2"/><circle cx="464.5" cy="372.7" r="2.2"/><circle cx="462.8" cy="377.7" r="2.2"/><circle cx="466.1" cy="379.3" r="2.2"/><circle cx="467.8" cy="383.4" r="2.2"/><circle cx="464.5" cy="385.9" r="2.2"/><circle cx="462.0" cy="389.2" r="2.2"/><circle cx="459.5" cy="386.7" r="2.2"/><circle cx="456.2" cy="387.6" r="2.2"/><circle cx="453.7" cy="390.9" r="2.2"/><circle cx="451.3" cy="392.5" r="2.2"/><circle cx="452.9" cy="395.8" r="2.2"/><circle cx="459.5" cy="400.4" r="2.2"/><circle cx="463.6" cy="397.8" r="2.2"/><circle cx="472.7" cy="401.6" r="2.2"/><circle cx="449.6" cy="399.9" r="2.2"/><circle cx="448.0" cy="402.4" r="2.2"/><circle cx="367.0" cy="405.8" r="2.2"/><circle cx="353.8" cy="411.6" r="2.2"/><circle cx="347.7" cy="420.6" r="2.2"/><circle cx="353.8" cy="423.9" r="2.2"/><circle cx="360.4" cy="420.6" r="2.2"/><circle cx="353.8" cy="428.4" r="2.2"/><circle cx="357.1" cy="428.9" r="2.2"/><circle cx="343.9" cy="434.7" r="2.2"/><circle cx="352.2" cy="435.0" r="2.2"/><circle cx="355.5" cy="435.0" r="2.2"/><circle cx="339.8" cy="443.4" r="2.2"/><circle cx="347.2" cy="442.6" r="2.2"/><circle cx="350.5" cy="444.9" r="2.2"/><circle cx="353.8" cy="442.6" r="2.2"/><circle cx="358.0" cy="440.4" r="2.2"/><circle cx="360.4" cy="439.6" r="2.2"/><circle cx="362.9" cy="438.0" r="2.2"/><circle cx="364.6" cy="435.5" r="2.2"/><circle cx="366.2" cy="439.6" r="2.2"/><circle cx="363.7" cy="442.1" r="2.2"/><circle cx="364.6" cy="448.7" r="2.2"/><circle cx="366.2" cy="447.0" r="2.2"/><circle cx="368.7" cy="447.0" r="2.2"/><circle cx="349.4" cy="453.1" r="2.2"/><circle cx="373.6" cy="450.3" r="2.2"/><circle cx="376.9" cy="449.5" r="2.2"/><circle cx="377.8" cy="452.5" r="2.2"/><circle cx="375.3" cy="456.9" r="2.2"/><circle cx="390.1" cy="455.3" r="2.2"/><circle cx="392.6" cy="453.6" r="2.2"/><circle cx="401.4" cy="458.1" r="2.2"/><circle cx="401.7" cy="446.2" r="2.2"/><circle cx="406.6" cy="446.2" r="2.2"/><circle cx="393.4" cy="443.7" r="2.2"/><circle cx="413.2" cy="435.5" r="2.2"/><circle cx="331.2" cy="459.4" r="2.2"/><circle cx="330.2" cy="460.7" r="2.2"/><circle cx="323.3" cy="463.0" r="2.2"/><circle cx="326.6" cy="467.3" r="2.2"/><circle cx="339.8" cy="463.2" r="2.2"/><circle cx="350.5" cy="463.5" r="2.2"/><circle cx="353.0" cy="461.1" r="2.2"/><circle cx="355.1" cy="467.3" r="2.2"/><circle cx="362.9" cy="464.0" r="2.2"/><circle cx="370.3" cy="461.1" r="2.2"/><circle cx="374.5" cy="439.6" r="2.2"/><circle cx="378.6" cy="440.4" r="2.2"/><circle cx="381.1" cy="444.6" r="2.2"/><circle cx="376.1" cy="442.9" r="2.2"/><circle cx="449.6" cy="405.8" r="2.2"/><circle cx="452.6" cy="411.1" r="2.2"/><circle cx="446.0" cy="411.6" r="2.2"/><circle cx="441.4" cy="409.9" r="2.2"/><circle cx="437.2" cy="419.5" r="2.2"/><circle cx="444.7" cy="420.1" r="2.2"/><circle cx="449.6" cy="419.8" r="2.2"/><circle cx="471.4" cy="424.4" r="2.2"/><circle cx="444.7" cy="435.1" r="2.2"/><circle cx="447.6" cy="457.4" r="2.2"/><circle cx="418.3" cy="432.2" r="2.2"/><circle cx="419.9" cy="431.4" r="2.2"/><circle cx="421.6" cy="433.0" r="2.2"/><circle cx="431.5" cy="423.1" r="2.2"/><circle cx="428.2" cy="420.6" r="2.2"/><circle cx="434.8" cy="414.9" r="2.2"/><circle cx="436.4" cy="411.6" r="2.2"/><circle cx="439.7" cy="406.6" r="2.2"/><circle cx="426.5" cy="413.2" r="2.2"/><circle cx="405.8" cy="425.2" r="2.2"/><circle cx="417.2" cy="397.6" r="2.2"/><circle cx="385.5" cy="411.8" r="2.2"/><circle cx="400.0" cy="402.1" r="2.2"/><circle cx="418.2" cy="408.6" r="2.2"/><circle cx="386.8" cy="414.3" r="2.2"/><circle cx="403.7" cy="408.1" r="2.2"/><circle cx="410.1" cy="389.2" r="2.2"/><circle cx="407.8" cy="416.3" r="2.2"/><circle cx="394.9" cy="408.3" r="2.2"/><circle cx="437.3" cy="398.8" r="2.2"/><circle cx="398.0" cy="432.3" r="2.2"/><circle cx="401.9" cy="410.4" r="2.2"/><circle cx="390.3" cy="426.4" r="2.2"/><circle cx="426.2" cy="395.1" r="2.2"/><circle cx="410.5" cy="417.2" r="2.2"/><circle cx="387.2" cy="415.6" r="2.2"/><circle cx="402.1" cy="411.4" r="2.2"/><circle cx="416.9" cy="414.7" r="2.2"/><circle cx="387.0" cy="410.9" r="2.2"/><circle cx="406.6" cy="390.3" r="2.2"/><circle cx="385.7" cy="411.3" r="2.2"/><circle cx="394.3" cy="395.7" r="2.2"/><circle cx="400.1" cy="392.7" r="2.2"/><circle cx="401.7" cy="414.2" r="2.2"/><circle cx="381.0" cy="417.6" r="2.2"/><circle cx="432.0" cy="396.0" r="2.2"/><circle cx="434.4" cy="390.7" r="2.2"/><circle cx="410.0" cy="390.7" r="2.2"/><circle cx="433.4" cy="405.4" r="2.2"/><circle cx="404.9" cy="409.8" r="2.2"/><circle cx="406.7" cy="429.7" r="2.2"/><circle cx="385.8" cy="435.5" r="2.2"/><circle cx="398.8" cy="413.1" r="2.2"/><circle cx="400.4" cy="404.8" r="2.2"/><circle cx="404.1" cy="403.1" r="2.2"/><circle cx="412.9" cy="394.3" r="2.2"/><circle cx="380.9" cy="433.4" r="2.2"/><circle cx="383.6" cy="425.3" r="2.2"/><circle cx="438.0" cy="402.2" r="2.2"/><circle cx="419.0" cy="395.0" r="2.2"/><circle cx="406.9" cy="400.0" r="2.2"/><circle cx="407.5" cy="427.4" r="2.2"/><circle cx="407.6" cy="428.2" r="2.2"/><circle cx="410.2" cy="392.4" r="2.2"/><circle cx="386.4" cy="402.0" r="2.2"/><circle cx="420.1" cy="406.3" r="2.2"/><circle cx="371.1" cy="423.9" r="2.2"/><circle cx="386.4" cy="418.9" r="2.2"/><circle cx="386.4" cy="410.9" r="2.2"/><circle cx="381.5" cy="431.0" r="2.2"/><circle cx="429.9" cy="394.7" r="2.2"/><circle cx="432.4" cy="394.2" r="2.2"/><circle cx="397.1" cy="419.7" r="2.2"/><circle cx="399.3" cy="399.8" r="2.2"/><circle cx="402.2" cy="420.6" r="2.2"/><circle cx="422.9" cy="406.0" r="2.2"/><circle cx="431.0" cy="401.4" r="2.2"/><circle cx="396.5" cy="422.5" r="2.2"/><circle cx="412.2" cy="401.4" r="2.2"/><circle cx="407.1" cy="406.5" r="2.2"/><circle cx="402.6" cy="425.8" r="2.2"/><circle cx="406.2" cy="411.4" r="2.2"/><circle cx="419.4" cy="418.0" r="2.2"/><circle cx="391.0" cy="407.5" r="2.2"/><circle cx="417.1" cy="388.7" r="2.2"/><circle cx="380.6" cy="421.7" r="2.2"/><circle cx="388.1" cy="413.8" r="2.2"/><circle cx="396.7" cy="390.6" r="2.2"/><circle cx="417.4" cy="393.6" r="2.2"/><circle cx="415.9" cy="388.6" r="2.2"/><circle cx="410.5" cy="387.6" r="2.2"/><circle cx="384.9" cy="408.6" r="2.2"/><circle cx="405.1" cy="391.3" r="2.2"/><circle cx="395.0" cy="398.3" r="2.2"/><circle cx="403.4" cy="382.5" r="2.2"/><circle cx="419.6" cy="403.2" r="2.2"/><circle cx="407.9" cy="380.2" r="2.2"/><circle cx="418.4" cy="392.1" r="2.2"/><circle cx="399.8" cy="397.6" r="2.2"/><circle cx="408.6" cy="400.4" r="2.2"/><circle cx="411.7" cy="407.3" r="2.2"/><circle cx="405.7" cy="393.8" r="2.2"/><circle cx="410.6" cy="391.7" r="2.2"/><circle cx="401.8" cy="394.1" r="2.2"/><circle cx="417.0" cy="378.1" r="2.2"/><circle cx="397.5" cy="393.6" r="2.2"/><circle cx="413.6" cy="409.3" r="2.2"/><circle cx="389.3" cy="407.9" r="2.2"/><circle cx="416.1" cy="374.0" r="2.2"/><circle cx="415.9" cy="383.5" r="2.2"/><circle cx="412.3" cy="373.4" r="2.2"/><circle cx="386.6" cy="408.0" r="2.2"/><circle cx="394.0" cy="393.9" r="2.2"/><circle cx="396.7" cy="402.1" r="2.2"/><circle cx="412.5" cy="387.9" r="2.2"/><circle cx="393.8" cy="396.9" r="2.2"/><circle cx="390.0" cy="409.6" r="2.2"/><circle cx="407.5" cy="398.0" r="2.2"/><circle cx="413.8" cy="396.5" r="2.2"/><circle cx="386.5" cy="405.8" r="2.2"/><circle cx="409.7" cy="389.0" r="2.2"/><circle cx="408.1" cy="386.8" r="2.2"/><circle cx="407.0" cy="387.5" r="2.2"/><circle cx="419.1" cy="369.5" r="2.2"/><circle cx="406.4" cy="387.8" r="2.2"/><circle cx="411.3" cy="389.3" r="2.2"/><circle cx="414.6" cy="383.7" r="2.2"/><circle cx="417.2" cy="387.6" r="2.2"/><circle cx="405.9" cy="379.2" r="2.2"/><circle cx="413.2" cy="393.7" r="2.2"/><circle cx="388.7" cy="407.2" r="2.2"/><circle cx="417.3" cy="391.6" r="2.2"/><circle cx="398.5" cy="399.8" r="2.2"/><circle cx="399.8" cy="391.3" r="2.2"/><circle cx="419.4" cy="376.2" r="2.2"/><circle cx="386.2" cy="405.8" r="2.2"/><circle cx="403.5" cy="394.1" r="2.2"/><circle cx="394.7" cy="396.8" r="2.2"/><circle cx="412.8" cy="376.8" r="2.2"/><circle cx="412.6" cy="389.0" r="2.2"/><circle cx="399.1" cy="405.8" r="2.2"/><circle cx="401.9" cy="385.2" r="2.2"/><circle cx="415.4" cy="377.2" r="2.2"/><circle cx="390.8" cy="398.4" r="2.2"/><circle cx="391.3" cy="402.6" r="2.2"/><circle cx="415.7" cy="378.6" r="2.2"/><circle cx="419.0" cy="380.7" r="2.2"/><circle cx="396.3" cy="393.4" r="2.2"/><circle cx="408.0" cy="398.0" r="2.2"/><circle cx="404.8" cy="403.5" r="2.2"/><circle cx="419.2" cy="398.1" r="2.2"/><circle cx="406.5" cy="390.5" r="2.2"/><circle cx="407.8" cy="392.6" r="2.2"/><circle cx="411.7" cy="377.6" r="2.2"/><circle cx="397.9" cy="409.4" r="2.2"/><circle cx="414.0" cy="381.6" r="2.2"/><circle cx="415.4" cy="408.8" r="2.2"/><circle cx="405.0" cy="397.0" r="2.2"/><circle cx="408.9" cy="408.4" r="2.2"/><circle cx="416.4" cy="374.6" r="2.2"/><circle cx="410.4" cy="400.5" r="2.2"/><circle cx="395.9" cy="405.8" r="2.2"/><circle cx="415.0" cy="389.6" r="2.2"/><circle cx="420.0" cy="407.1" r="2.2"/><circle cx="410.8" cy="401.7" r="2.2"/><circle cx="404.3" cy="400.9" r="2.2"/><circle cx="413.9" cy="403.5" r="2.2"/><circle cx="417.0" cy="406.6" r="2.2"/><circle cx="419.8" cy="406.7" r="2.2"/><circle cx="419.2" cy="407.0" r="2.2"/><circle cx="405.7" cy="407.0" r="2.2"/><circle cx="405.8" cy="397.2" r="2.2"/><circle cx="412.6" cy="400.3" r="2.2"/><circle cx="418.3" cy="392.3" r="2.2"/><circle cx="413.6" cy="392.5" r="2.2"/><circle cx="408.7" cy="404.8" r="2.2"/><circle cx="412.7" cy="408.9" r="2.2"/><circle cx="403.9" cy="402.0" r="2.2"/><circle cx="411.5" cy="405.0" r="2.2"/><circle cx="413.0" cy="398.5" r="2.2"/><circle cx="414.6" cy="392.6" r="2.2"/><circle cx="418.7" cy="388.1" r="2.2"/><circle cx="420.6" cy="404.3" r="2.2"/><circle cx="430.6" cy="373.8" r="2.2"/><circle cx="423.6" cy="366.7" r="2.2"/><circle cx="450.4" cy="371.2" r="2.2"/><circle cx="415.3" cy="367.7" r="2.2"/><circle cx="431.6" cy="374.1" r="2.2"/><circle cx="451.5" cy="379.3" r="2.2"/><circle cx="419.8" cy="380.8" r="2.2"/><circle cx="425.0" cy="388.9" r="2.2"/><circle cx="427.0" cy="399.7" r="2.2"/><circle cx="420.5" cy="384.0" r="2.2"/><circle cx="437.6" cy="360.5" r="2.2"/><circle cx="451.9" cy="380.0" r="2.2"/><circle cx="436.5" cy="401.5" r="2.2"/><circle cx="422.3" cy="368.9" r="2.2"/><circle cx="423.1" cy="397.2" r="2.2"/><circle cx="456.9" cy="358.3" r="2.2"/><circle cx="420.4" cy="382.5" r="2.2"/><circle cx="441.0" cy="380.5" r="2.2"/><circle cx="426.8" cy="382.0" r="2.2"/><circle cx="432.9" cy="397.9" r="2.2"/><circle cx="416.5" cy="389.8" r="2.2"/><circle cx="434.1" cy="362.7" r="2.2"/><circle cx="417.5" cy="383.2" r="2.2"/><circle cx="441.2" cy="392.3" r="2.2"/><circle cx="410.3" cy="376.8" r="2.2"/><circle cx="439.0" cy="388.5" r="2.2"/><circle cx="438.7" cy="375.3" r="2.2"/><circle cx="439.3" cy="379.5" r="2.2"/><circle cx="428.5" cy="376.0" r="2.2"/><circle cx="445.4" cy="378.6" r="2.2"/><circle cx="449.6" cy="360.8" r="2.2"/><circle cx="454.3" cy="358.4" r="2.2"/><circle cx="438.1" cy="397.2" r="2.2"/><circle cx="450.9" cy="378.2" r="2.2"/><circle cx="438.3" cy="382.6" r="2.2"/><circle cx="411.2" cy="397.4" r="2.2"/><circle cx="447.0" cy="354.6" r="2.2"/><circle cx="426.6" cy="385.6" r="2.2"/><circle cx="433.3" cy="377.0" r="2.2"/><circle cx="411.4" cy="376.5" r="2.2"/><circle cx="416.4" cy="382.5" r="2.2"/><circle cx="413.2" cy="396.7" r="2.2"/><circle cx="410.9" cy="385.5" r="2.2"/><circle cx="431.8" cy="392.8" r="2.2"/><circle cx="426.3" cy="379.8" r="2.2"/><circle cx="420.7" cy="364.6" r="2.2"/><circle cx="413.0" cy="369.9" r="2.2"/><circle cx="450.6" cy="381.3" r="2.2"/><circle cx="437.2" cy="367.6" r="2.2"/><circle cx="453.9" cy="358.4" r="2.2"/><circle cx="448.5" cy="359.8" r="2.2"/><circle cx="429.6" cy="360.9" r="2.2"/><circle cx="413.5" cy="378.4" r="2.2"/><circle cx="425.4" cy="401.1" r="2.2"/><circle cx="451.5" cy="372.3" r="2.2"/><circle cx="432.8" cy="389.0" r="2.2"/><circle cx="422.4" cy="380.9" r="2.2"/><circle cx="438.1" cy="381.9" r="2.2"/><circle cx="448.6" cy="383.6" r="2.2"/><circle cx="434.9" cy="363.6" r="2.2"/><circle cx="432.3" cy="366.2" r="2.2"/><circle cx="427.9" cy="381.5" r="2.2"/><circle cx="421.7" cy="373.5" r="2.2"/><circle cx="426.1" cy="379.4" r="2.2"/><circle cx="432.3" cy="404.1" r="2.2"/><circle cx="414.9" cy="396.7" r="2.2"/><circle cx="419.2" cy="375.4" r="2.2"/><circle cx="421.3" cy="365.4" r="2.2"/><circle cx="429.9" cy="365.1" r="2.2"/><circle cx="436.3" cy="388.0" r="2.2"/><circle cx="421.3" cy="393.6" r="2.2"/><circle cx="429.8" cy="400.1" r="2.2"/><circle cx="440.9" cy="406.4" r="2.2"/><circle cx="450.3" cy="358.7" r="2.2"/><circle cx="442.4" cy="359.6" r="2.2"/><circle cx="435.3" cy="401.0" r="2.2"/><circle cx="445.4" cy="351.7" r="2.2"/><circle cx="433.2" cy="385.0" r="2.2"/><circle cx="410.5" cy="381.2" r="2.2"/><circle cx="451.9" cy="383.9" r="2.2"/><circle cx="434.1" cy="355.4" r="2.2"/><circle cx="443.1" cy="390.7" r="2.2"/><circle cx="433.4" cy="371.4" r="2.2"/><circle cx="431.8" cy="370.3" r="2.2"/><circle cx="439.1" cy="407.6" r="2.2"/><circle cx="411.9" cy="399.0" r="2.2"/><circle cx="425.6" cy="385.6" r="2.2"/><circle cx="449.8" cy="387.3" r="2.2"/><circle cx="423.3" cy="380.2" r="2.2"/><circle cx="425.1" cy="406.5" r="2.2"/><circle cx="448.2" cy="365.8" r="2.2"/><circle cx="437.2" cy="389.5" r="2.2"/><circle cx="425.2" cy="370.1" r="2.2"/><circle cx="428.8" cy="409.3" r="2.2"/><circle cx="418.3" cy="407.5" r="2.2"/><circle cx="457.9" cy="380.6" r="2.2"/><circle cx="424.4" cy="395.8" r="2.2"/><circle cx="438.3" cy="408.8" r="2.2"/><circle cx="439.5" cy="363.4" r="2.2"/><circle cx="431.7" cy="375.2" r="2.2"/><circle cx="434.9" cy="361.0" r="2.2"/><circle cx="433.8" cy="354.7" r="2.2"/><circle cx="447.3" cy="372.7" r="2.2"/><circle cx="454.6" cy="354.0" r="2.2"/><circle cx="455.8" cy="354.6" r="2.2"/><circle cx="428.3" cy="359.8" r="2.2"/><circle cx="416.3" cy="381.4" r="2.2"/><circle cx="457.4" cy="382.6" r="2.2"/><circle cx="427.9" cy="379.7" r="2.2"/><circle cx="421.1" cy="382.4" r="2.2"/><circle cx="453.5" cy="379.5" r="2.2"/><circle cx="428.8" cy="379.0" r="2.2"/><circle cx="427.3" cy="398.4" r="2.2"/><circle cx="432.5" cy="355.6" r="2.2"/><circle cx="446.5" cy="397.1" r="2.2"/><circle cx="437.7" cy="398.8" r="2.2"/><circle cx="420.8" cy="395.4" r="2.2"/><circle cx="430.6" cy="360.0" r="2.2"/><circle cx="442.2" cy="357.9" r="2.2"/><circle cx="420.7" cy="401.7" r="2.2"/><circle cx="415.9" cy="408.6" r="2.2"/><circle cx="436.9" cy="362.6" r="2.2"/><circle cx="432.2" cy="400.5" r="2.2"/><circle cx="419.3" cy="389.3" r="2.2"/><circle cx="430.2" cy="391.2" r="2.2"/><circle cx="431.7" cy="387.6" r="2.2"/><circle cx="447.5" cy="354.2" r="2.2"/><circle cx="443.0" cy="353.6" r="2.2"/><circle cx="445.0" cy="388.7" r="2.2"/><circle cx="455.5" cy="386.1" r="2.2"/><circle cx="412.9" cy="397.3" r="2.2"/><circle cx="425.8" cy="360.1" r="2.2"/><circle cx="422.2" cy="390.4" r="2.2"/><circle cx="441.9" cy="398.6" r="2.2"/><circle cx="440.0" cy="391.8" r="2.2"/><circle cx="446.7" cy="352.4" r="2.2"/><circle cx="450.3" cy="377.0" r="2.2"/><circle cx="437.6" cy="375.7" r="2.2"/><circle cx="431.1" cy="404.8" r="2.2"/><circle cx="420.9" cy="367.3" r="2.2"/><circle cx="434.4" cy="409.7" r="2.2"/><circle cx="451.7" cy="360.0" r="2.2"/><circle cx="429.2" cy="410.0" r="2.2"/><circle cx="441.6" cy="369.9" r="2.2"/><circle cx="416.5" cy="379.0" r="2.2"/><circle cx="440.2" cy="369.9" r="2.2"/><circle cx="451.7" cy="356.9" r="2.2"/><circle cx="436.9" cy="381.3" r="2.2"/><circle cx="441.8" cy="376.0" r="2.2"/><circle cx="418.2" cy="390.2" r="2.2"/><circle cx="430.4" cy="378.8" r="2.2"/><circle cx="410.8" cy="372.3" r="2.2"/><circle cx="421.1" cy="375.8" r="2.2"/><circle cx="419.7" cy="369.9" r="2.2"/><circle cx="429.4" cy="357.7" r="2.2"/><circle cx="412.3" cy="393.7" r="2.2"/><circle cx="420.6" cy="390.0" r="2.2"/><circle cx="415.4" cy="375.2" r="2.2"/><circle cx="436.0" cy="385.1" r="2.2"/><circle cx="434.5" cy="371.9" r="2.2"/><circle cx="438.0" cy="394.0" r="2.2"/><circle cx="446.9" cy="352.7" r="2.2"/><circle cx="448.5" cy="358.4" r="2.2"/><circle cx="446.6" cy="390.4" r="2.2"/><circle cx="432.4" cy="389.9" r="2.2"/><circle cx="418.5" cy="399.5" r="2.2"/><circle cx="445.7" cy="386.8" r="2.2"/><circle cx="413.3" cy="387.4" r="2.2"/><circle cx="436.0" cy="364.3" r="2.2"/><circle cx="415.9" cy="370.1" r="2.2"/><circle cx="413.3" cy="386.3" r="2.2"/><circle cx="454.6" cy="378.7" r="2.2"/><circle cx="442.9" cy="373.1" r="2.2"/><circle cx="416.7" cy="381.4" r="2.2"/><circle cx="410.2" cy="375.2" r="2.2"/><circle cx="422.1" cy="361.0" r="2.2"/><circle cx="419.0" cy="403.7" r="2.2"/><circle cx="440.5" cy="389.7" r="2.2"/><circle cx="449.9" cy="391.4" r="2.2"/><circle cx="410.8" cy="375.1" r="2.2"/><circle cx="427.9" cy="363.0" r="2.2"/><circle cx="425.9" cy="363.8" r="2.2"/><circle cx="436.2" cy="388.0" r="2.2"/><circle cx="427.1" cy="359.0" r="2.2"/><circle cx="420.1" cy="381.7" r="2.2"/><circle cx="411.3" cy="405.2" r="2.2"/><circle cx="435.6" cy="373.3" r="2.2"/><circle cx="442.8" cy="395.1" r="2.2"/><circle cx="447.0" cy="391.0" r="2.2"/><circle cx="436.1" cy="390.6" r="2.2"/><circle cx="413.1" cy="391.4" r="2.2"/><circle cx="455.6" cy="378.3" r="2.2"/><circle cx="451.4" cy="370.0" r="2.2"/><circle cx="428.9" cy="379.9" r="2.2"/><circle cx="413.2" cy="400.4" r="2.2"/><circle cx="414.3" cy="388.1" r="2.2"/><circle cx="442.6" cy="350.1" r="2.2"/><circle cx="458.1" cy="351.6" r="2.2"/><circle cx="434.3" cy="342.9" r="2.2"/><circle cx="445.5" cy="347.1" r="2.2"/><circle cx="426.4" cy="350.4" r="2.2"/><circle cx="453.1" cy="344.0" r="2.2"/><circle cx="432.3" cy="355.7" r="2.2"/><circle cx="432.5" cy="347.1" r="2.2"/><circle cx="419.1" cy="357.2" r="2.2"/><circle cx="438.2" cy="347.0" r="2.2"/><circle cx="434.8" cy="348.3" r="2.2"/><circle cx="427.1" cy="344.6" r="2.2"/><circle cx="447.8" cy="341.6" r="2.2"/><circle cx="427.7" cy="348.3" r="2.2"/><circle cx="447.9" cy="338.9" r="2.2"/><circle cx="422.3" cy="354.4" r="2.2"/><circle cx="455.8" cy="342.9" r="2.2"/><circle cx="447.8" cy="338.7" r="2.2"/><circle cx="428.4" cy="400.7" r="2.2"/><circle cx="432.7" cy="382.2" r="2.2"/><circle cx="435.5" cy="374.2" r="2.2"/><circle cx="448.5" cy="377.7" r="2.2"/><circle cx="414.0" cy="387.5" r="2.2"/><circle cx="436.1" cy="402.4" r="2.2"/><circle cx="422.3" cy="399.7" r="2.2"/><circle cx="421.1" cy="393.7" r="2.2"/><circle cx="410.4" cy="401.6" r="2.2"/><circle cx="416.0" cy="394.0" r="2.2"/><circle cx="426.7" cy="393.7" r="2.2"/><circle cx="416.1" cy="380.3" r="2.2"/><circle cx="438.2" cy="398.9" r="2.2"/><circle cx="424.2" cy="376.2" r="2.2"/><circle cx="426.5" cy="401.6" r="2.2"/><circle cx="440.1" cy="398.0" r="2.2"/><circle cx="429.7" cy="373.2" r="2.2"/><circle cx="428.0" cy="394.0" r="2.2"/><circle cx="413.1" cy="407.1" r="2.2"/><circle cx="423.6" cy="396.2" r="2.2"/><circle cx="417.3" cy="380.1" r="2.2"/><circle cx="441.4" cy="372.5" r="2.2"/><circle cx="438.0" cy="390.3" r="2.2"/><circle cx="413.1" cy="386.0" r="2.2"/><circle cx="436.5" cy="379.5" r="2.2"/><circle cx="424.0" cy="392.0" r="2.2"/><circle cx="433.5" cy="388.8" r="2.2"/><circle cx="417.7" cy="404.8" r="2.2"/><circle cx="427.2" cy="390.2" r="2.2"/><circle cx="438.0" cy="374.7" r="2.2"/><circle cx="418.2" cy="396.4" r="2.2"/><circle cx="425.8" cy="408.8" r="2.2"/><circle cx="426.3" cy="389.4" r="2.2"/><circle cx="436.5" cy="387.7" r="2.2"/><circle cx="445.7" cy="371.1" r="2.2"/><circle cx="440.2" cy="372.9" r="2.2"/><circle cx="426.8" cy="403.7" r="2.2"/><circle cx="440.8" cy="389.7" r="2.2"/><circle cx="412.6" cy="387.0" r="2.2"/><circle cx="430.4" cy="389.6" r="2.2"/><circle cx="415.5" cy="398.7" r="2.2"/><circle cx="417.5" cy="380.4" r="2.2"/><circle cx="439.5" cy="391.4" r="2.2"/><circle cx="433.5" cy="408.2" r="2.2"/><circle cx="425.6" cy="394.8" r="2.2"/><circle cx="423.8" cy="385.7" r="2.2"/><circle cx="438.4" cy="375.8" r="2.2"/><circle cx="435.9" cy="399.7" r="2.2"/><circle cx="433.6" cy="382.4" r="2.2"/><circle cx="423.1" cy="383.3" r="2.2"/><circle cx="422.4" cy="391.8" r="2.2"/><circle cx="446.6" cy="378.2" r="2.2"/><circle cx="451.1" cy="375.4" r="2.2"/><circle cx="422.9" cy="389.4" r="2.2"/><circle cx="428.2" cy="384.5" r="2.2"/><circle cx="442.8" cy="382.7" r="2.2"/><circle cx="423.2" cy="377.4" r="2.2"/><circle cx="429.2" cy="388.8" r="2.2"/><circle cx="418.5" cy="393.5" r="2.2"/><circle cx="434.6" cy="375.8" r="2.2"/><circle cx="410.9" cy="400.2" r="2.2"/><circle cx="429.7" cy="383.4" r="2.2"/><circle cx="426.3" cy="390.0" r="2.2"/><circle cx="426.1" cy="398.2" r="2.2"/><circle cx="422.1" cy="395.1" r="2.2"/><circle cx="427.8" cy="372.0" r="2.2"/><circle cx="433.4" cy="401.5" r="2.2"/><circle cx="430.5" cy="388.9" r="2.2"/><circle cx="375.6" cy="416.8" r="2.2"/><circle cx="412.7" cy="416.0" r="2.2"/><circle cx="418.4" cy="413.5" r="2.2"/><circle cx="412.1" cy="407.7" r="2.2"/><circle cx="419.0" cy="420.8" r="2.2"/><circle cx="397.4" cy="425.4" r="2.2"/><circle cx="379.7" cy="427.9" r="2.2"/><circle cx="417.1" cy="424.8" r="2.2"/><circle cx="389.6" cy="414.4" r="2.2"/><circle cx="373.6" cy="415.7" r="2.2"/><circle cx="394.6" cy="412.0" r="2.2"/><circle cx="376.8" cy="408.9" r="2.2"/><circle cx="386.0" cy="416.1" r="2.2"/><circle cx="386.5" cy="408.8" r="2.2"/><circle cx="374.7" cy="412.3" r="2.2"/><circle cx="378.0" cy="416.3" r="2.2"/><circle cx="377.9" cy="423.3" r="2.2"/><circle cx="373.8" cy="428.9" r="2.2"/><circle cx="419.1" cy="412.6" r="2.2"/><circle cx="402.7" cy="432.1" r="2.2"/><circle cx="407.5" cy="409.3" r="2.2"/><circle cx="396.0" cy="414.6" r="2.2"/><circle cx="385.7" cy="413.6" r="2.2"/><circle cx="418.1" cy="421.0" r="2.2"/><circle cx="412.7" cy="432.1" r="2.2"/><circle cx="416.8" cy="428.8" r="2.2"/><circle cx="383.2" cy="403.7" r="2.2"/><circle cx="405.9" cy="410.7" r="2.2"/><circle cx="413.8" cy="427.0" r="2.2"/><circle cx="400.6" cy="437.4" r="2.2"/><circle cx="388.6" cy="405.7" r="2.2"/><circle cx="390.0" cy="411.3" r="2.2"/><circle cx="384.0" cy="426.5" r="2.2"/><circle cx="400.9" cy="412.3" r="2.2"/><circle cx="378.1" cy="423.9" r="2.2"/><circle cx="409.4" cy="423.2" r="2.2"/><circle cx="416.1" cy="413.3" r="2.2"/><circle cx="374.2" cy="426.9" r="2.2"/><circle cx="397.0" cy="427.4" r="2.2"/><circle cx="414.5" cy="423.2" r="2.2"/><circle cx="377.2" cy="412.3" r="2.2"/><circle cx="417.2" cy="406.6" r="2.2"/><circle cx="405.3" cy="440.7" r="2.2"/><circle cx="409.6" cy="436.4" r="2.2"/><circle cx="409.7" cy="438.7" r="2.2"/><circle cx="397.6" cy="427.0" r="2.2"/><circle cx="407.0" cy="417.1" r="2.2"/><circle cx="379.6" cy="430.3" r="2.2"/><circle cx="388.2" cy="433.1" r="2.2"/><circle cx="393.7" cy="441.0" r="2.2"/><circle cx="389.3" cy="419.0" r="2.2"/><circle cx="381.1" cy="409.6" r="2.2"/><circle cx="413.4" cy="417.2" r="2.2"/><circle cx="405.3" cy="421.8" r="2.2"/><circle cx="409.4" cy="417.6" r="2.2"/><circle cx="392.9" cy="422.5" r="2.2"/><circle cx="389.3" cy="412.2" r="2.2"/><circle cx="389.2" cy="416.4" r="2.2"/><circle cx="408.3" cy="427.0" r="2.2"/><circle cx="412.0" cy="435.6" r="2.2"/><circle cx="373.5" cy="419.5" r="2.2"/><circle cx="395.3" cy="407.2" r="2.2"/><circle cx="381.7" cy="407.3" r="2.2"/><circle cx="391.0" cy="423.1" r="2.2"/><circle cx="389.6" cy="428.1" r="2.2"/><circle cx="379.6" cy="421.6" r="2.2"/><circle cx="396.0" cy="411.2" r="2.2"/><circle cx="415.2" cy="431.9" r="2.2"/><circle cx="386.8" cy="407.2" r="2.2"/><circle cx="391.0" cy="437.5" r="2.2"/><circle cx="389.2" cy="423.9" r="2.2"/><circle cx="377.2" cy="432.6" r="2.2"/><circle cx="387.6" cy="404.9" r="2.2"/><circle cx="388.1" cy="409.9" r="2.2"/><circle cx="387.2" cy="415.1" r="2.2"/><circle cx="394.2" cy="405.8" r="2.2"/><circle cx="402.1" cy="414.4" r="2.2"/><circle cx="398.2" cy="405.9" r="2.2"/><circle cx="413.4" cy="432.8" r="2.2"/><circle cx="415.0" cy="433.7" r="2.2"/><circle cx="408.4" cy="432.3" r="2.2"/><circle cx="398.0" cy="400.2" r="2.2"/><circle cx="405.1" cy="437.6" r="2.2"/><circle cx="392.2" cy="439.9" r="2.2"/><circle cx="417.3" cy="432.7" r="2.2"/><circle cx="396.0" cy="421.4" r="2.2"/><circle cx="400.4" cy="400.9" r="2.2"/><circle cx="406.3" cy="436.7" r="2.2"/><circle cx="417.8" cy="411.5" r="2.2"/><circle cx="394.6" cy="410.0" r="2.2"/><circle cx="397.9" cy="428.8" r="2.2"/><circle cx="403.3" cy="414.6" r="2.2"/><circle cx="402.2" cy="427.1" r="2.2"/><circle cx="415.2" cy="428.4" r="2.2"/><circle cx="403.1" cy="411.5" r="2.2"/><circle cx="392.5" cy="408.3" r="2.2"/><circle cx="378.5" cy="423.9" r="2.2"/><circle cx="400.8" cy="436.6" r="2.2"/><circle cx="399.0" cy="435.0" r="2.2"/><circle cx="383.1" cy="435.3" r="2.2"/><circle cx="419.4" cy="404.4" r="2.2"/><circle cx="386.6" cy="428.4" r="2.2"/><circle cx="396.0" cy="424.9" r="2.2"/><circle cx="409.0" cy="425.3" r="2.2"/><circle cx="396.3" cy="424.1" r="2.2"/><circle cx="386.0" cy="426.5" r="2.2"/><circle cx="389.2" cy="428.4" r="2.2"/><circle cx="402.7" cy="415.0" r="2.2"/><circle cx="384.4" cy="437.3" r="2.2"/><circle cx="389.3" cy="420.1" r="2.2"/><circle cx="412.0" cy="418.8" r="2.2"/><circle cx="419.5" cy="419.2" r="2.2"/><circle cx="391.7" cy="406.1" r="2.2"/><circle cx="399.7" cy="436.2" r="2.2"/><circle cx="373.1" cy="421.3" r="2.2"/><circle cx="384.5" cy="427.9" r="2.2"/><circle cx="376.1" cy="413.4" r="2.2"/><circle cx="383.5" cy="426.6" r="2.2"/><circle cx="385.4" cy="414.2" r="2.2"/><circle cx="381.3" cy="428.7" r="2.2"/><circle cx="397.6" cy="413.3" r="2.2"/><circle cx="416.8" cy="413.2" r="2.2"/><circle cx="392.3" cy="416.5" r="2.2"/><circle cx="397.1" cy="407.2" r="2.2"/><circle cx="394.3" cy="426.8" r="2.2"/><circle cx="417.0" cy="411.4" r="2.2"/><circle cx="419.9" cy="427.1" r="2.2"/><circle cx="386.3" cy="407.5" r="2.2"/><circle cx="419.2" cy="423.5" r="2.2"/><circle cx="417.3" cy="411.4" r="2.2"/><circle cx="376.5" cy="416.7" r="2.2"/><circle cx="405.3" cy="404.6" r="2.2"/><circle cx="407.1" cy="429.4" r="2.2"/><circle cx="412.7" cy="426.2" r="2.2"/><circle cx="374.2" cy="411.1" r="2.2"/><circle cx="387.5" cy="436.6" r="2.2"/><circle cx="394.8" cy="411.6" r="2.2"/><circle cx="381.5" cy="434.3" r="2.2"/><circle cx="411.0" cy="424.4" r="2.2"/><circle cx="396.4" cy="401.3" r="2.2"/><circle cx="381.9" cy="405.6" r="2.2"/><circle cx="417.7" cy="424.2" r="2.2"/><circle cx="413.3" cy="436.4" r="2.2"/><circle cx="381.7" cy="402.3" r="2.2"/><circle cx="407.2" cy="420.1" r="2.2"/><circle cx="401.2" cy="433.3" r="2.2"/><circle cx="380.1" cy="404.1" r="2.2"/><circle cx="380.6" cy="420.4" r="2.2"/><circle cx="397.9" cy="426.7" r="2.2"/><circle cx="381.2" cy="404.8" r="2.2"/><circle cx="403.3" cy="422.3" r="2.2"/><circle cx="405.1" cy="426.4" r="2.2"/><circle cx="404.4" cy="408.0" r="2.2"/><circle cx="415.6" cy="413.9" r="2.2"/><circle cx="385.0" cy="406.6" r="2.2"/><circle cx="379.9" cy="414.2" r="2.2"/><circle cx="401.2" cy="425.4" r="2.2"/><circle cx="412.5" cy="425.1" r="2.2"/><circle cx="385.8" cy="417.2" r="2.2"/><circle cx="401.5" cy="409.9" r="2.2"/><circle cx="415.8" cy="420.9" r="2.2"/><circle cx="395.2" cy="419.9" r="2.2"/><circle cx="412.4" cy="401.9" r="2.2"/><circle cx="399.9" cy="420.2" r="2.2"/><circle cx="405.4" cy="408.7" r="2.2"/><circle cx="413.0" cy="423.9" r="2.2"/><circle cx="381.3" cy="412.8" r="2.2"/><circle cx="406.7" cy="411.9" r="2.2"/><circle cx="377.8" cy="426.9" r="2.2"/><circle cx="406.6" cy="421.3" r="2.2"/><circle cx="403.9" cy="402.9" r="2.2"/><circle cx="391.5" cy="421.5" r="2.2"/><circle cx="417.7" cy="406.1" r="2.2"/><circle cx="396.1" cy="433.1" r="2.2"/><circle cx="402.6" cy="429.2" r="2.2"/><circle cx="378.8" cy="428.1" r="2.2"/><circle cx="404.9" cy="433.5" r="2.2"/><circle cx="380.0" cy="417.2" r="2.2"/><circle cx="417.0" cy="427.1" r="2.2"/><circle cx="404.7" cy="403.5" r="2.2"/><circle cx="386.4" cy="431.3" r="2.2"/><circle cx="398.7" cy="434.7" r="2.2"/><circle cx="402.8" cy="416.5" r="2.2"/><circle cx="407.0" cy="404.1" r="2.2"/><circle cx="406.3" cy="407.7" r="2.2"/><circle cx="394.4" cy="424.7" r="2.2"/><circle cx="410.1" cy="420.4" r="2.2"/><circle cx="415.3" cy="409.0" r="2.2"/><circle cx="404.6" cy="427.3" r="2.2"/><circle cx="384.2" cy="425.5" r="2.2"/><circle cx="387.8" cy="424.7" r="2.2"/><circle cx="404.6" cy="404.7" r="2.2"/><circle cx="398.1" cy="410.9" r="2.2"/><circle cx="382.2" cy="419.4" r="2.2"/><circle cx="410.9" cy="403.1" r="2.2"/><circle cx="418.1" cy="402.0" r="2.2"/><circle cx="397.9" cy="406.7" r="2.2"/><circle cx="417.9" cy="411.3" r="2.2"/><circle cx="412.3" cy="419.7" r="2.2"/><circle cx="434.3" cy="400.5" r="2.2"/><circle cx="424.1" cy="405.3" r="2.2"/><circle cx="422.5" cy="416.5" r="2.2"/><circle cx="424.2" cy="410.9" r="2.2"/><circle cx="425.7" cy="400.2" r="2.2"/><circle cx="435.8" cy="400.2" r="2.2"/><circle cx="414.1" cy="422.6" r="2.2"/><circle cx="423.9" cy="401.3" r="2.2"/><circle cx="418.0" cy="420.1" r="2.2"/><circle cx="415.7" cy="423.6" r="2.2"/><circle cx="429.0" cy="411.2" r="2.2"/><circle cx="420.5" cy="406.5" r="2.2"/><circle cx="431.2" cy="400.9" r="2.2"/><circle cx="430.8" cy="403.1" r="2.2"/><circle cx="419.7" cy="410.8" r="2.2"/><circle cx="411.4" cy="406.8" r="2.2"/><circle cx="428.1" cy="400.8" r="2.2"/><circle cx="414.1" cy="412.9" r="2.2"/><circle cx="412.4" cy="416.4" r="2.2"/><circle cx="414.7" cy="415.8" r="2.2"/><circle cx="420.2" cy="406.0" r="2.2"/><circle cx="413.3" cy="422.6" r="2.2"/><circle cx="410.5" cy="419.8" r="2.2"/><circle cx="423.2" cy="412.3" r="2.2"/><circle cx="423.0" cy="407.8" r="2.2"/><circle cx="426.3" cy="421.3" r="2.2"/><circle cx="414.5" cy="413.4" r="2.2"/><circle cx="410.1" cy="407.9" r="2.2"/><circle cx="418.3" cy="404.7" r="2.2"/><circle cx="424.2" cy="418.9" r="2.2"/><circle cx="426.7" cy="412.9" r="2.2"/><circle cx="428.0" cy="400.7" r="2.2"/><circle cx="417.7" cy="413.3" r="2.2"/><circle cx="414.3" cy="404.9" r="2.2"/><circle cx="410.2" cy="422.3" r="2.2"/><circle cx="424.9" cy="407.7" r="2.2"/><circle cx="412.9" cy="407.3" r="2.2"/><circle cx="429.8" cy="403.7" r="2.2"/><circle cx="411.8" cy="401.9" r="2.2"/><circle cx="432.8" cy="402.0" r="2.2"/><circle cx="425.6" cy="402.0" r="2.2"/><circle cx="414.1" cy="402.0" r="2.2"/><circle cx="415.0" cy="408.7" r="2.2"/><circle cx="411.3" cy="419.3" r="2.2"/><circle cx="415.3" cy="401.8" r="2.2"/><circle cx="423.5" cy="412.1" r="2.2"/><circle cx="421.3" cy="414.2" r="2.2"/><circle cx="416.5" cy="401.9" r="2.2"/><circle cx="414.4" cy="401.3" r="2.2"/><circle cx="416.5" cy="416.5" r="2.2"/><circle cx="412.2" cy="416.7" r="2.2"/><circle cx="421.1" cy="403.9" r="2.2"/><circle cx="422.1" cy="402.9" r="2.2"/><circle cx="414.4" cy="403.4" r="2.2"/><circle cx="416.9" cy="409.4" r="2.2"/><circle cx="416.7" cy="417.7" r="2.2"/></g>
<line x1="202.4" y1="547.4" x2="497.6" y2="336.8" stroke="#ff7f0e" stroke-width="0.95"/>
<rect x="186.9" y="306.6" width="1.1" height="252.7" fill="#bdbdbd"/>
<rect x="510.2" y="306.6" width="1.2" height="252.7" fill="#c2c2c2"/>
<rect x="186.9" y="306.1" width="324.4" height="1" fill="#555"/>
<rect x="186.9" y="558.1" width="324.4" height="1.4" fill="#c8c8c8"/>
<g stroke="#777" stroke-width="0.9"><line x1="202.4" y1="559.6" x2="202.4" y2="561.8"/><line x1="241.5" y1="559.6" x2="241.5" y2="561.8"/><line x1="280.6" y1="559.6" x2="280.6" y2="561.8"/><line x1="319.7" y1="559.6" x2="319.7" y2="561.8"/><line x1="358.8" y1="559.6" x2="358.8" y2="561.8"/><line x1="397.9" y1="559.6" x2="397.9" y2="561.8"/><line x1="437.0" y1="559.6" x2="437.0" y2="561.8"/><line x1="476.1" y1="559.6" x2="476.1" y2="561.8"/><line x1="184.7" y1="519.5" x2="186.9" y2="519.5"/><line x1="184.7" y1="463.7" x2="186.9" y2="463.7"/><line x1="184.7" y1="407.9" x2="186.9" y2="407.9"/><line x1="184.7" y1="352.1" x2="186.9" y2="352.1"/></g>
<g font-family="Liberation Sans, sans-serif" font-size="7.0" fill="#111" stroke="#444" stroke-width="0.15" opacity="0.98"><text x="198.1" y="567.8" textLength="8.6" lengthAdjust="spacingAndGlyphs">0.1</text><text x="237.2" y="567.8" textLength="8.6" lengthAdjust="spacingAndGlyphs">0.2</text><text x="276.3" y="567.8" textLength="8.6" lengthAdjust="spacingAndGlyphs">0.3</text><text x="315.4" y="567.8" textLength="8.6" lengthAdjust="spacingAndGlyphs">0.4</text><text x="354.5" y="567.8" textLength="8.6" lengthAdjust="spacingAndGlyphs">0.5</text><text x="393.6" y="567.8" textLength="8.6" lengthAdjust="spacingAndGlyphs">0.6</text><text x="432.7" y="567.8" textLength="8.6" lengthAdjust="spacingAndGlyphs">0.7</text><text x="471.8" y="567.8" textLength="8.6" lengthAdjust="spacingAndGlyphs">0.8</text><text x="173.5" y="522.0" textLength="8.6" lengthAdjust="spacingAndGlyphs">0.2</text><text x="173.5" y="466.2" textLength="8.6" lengthAdjust="spacingAndGlyphs">0.4</text><text x="173.5" y="410.4" textLength="8.6" lengthAdjust="spacingAndGlyphs">0.6</text><text x="173.5" y="354.6" textLength="8.6" lengthAdjust="spacingAndGlyphs">0.8</text></g>
<text x="109.6" y="295.8" font-family="Liberation Serif, serif" font-size="20" fill="#222" textLength="23.8" lengthAdjust="spacingAndGlyphs">(a)</text>
<text x="140.5" y="295.8" font-family="Liberation Serif, serif" font-size="20" fill="#222" textLength="88.3" lengthAdjust="spacingAndGlyphs">1995-2005</text>
<text x="458.0" y="295.8" font-family="Liberation Serif, serif" font-size="20" fill="#222" textLength="24.8" lengthAdjust="spacingAndGlyphs">(b)</text>
<text x="491.0" y="295.8" font-family="Liberation Serif, serif" font-size="20" fill="#222" textLength="88.0" lengthAdjust="spacingAndGlyphs">2002-2012</text>
<text x="284.5" y="600.8" font-family="Liberation Serif, serif" font-size="20" fill="#222" textLength="22.7" lengthAdjust="spacingAndGlyphs">(c)</text>
<text x="314.8" y="600.8" font-family="Liberation Serif, serif" font-size="20" fill="#222" textLength="88.2" lengthAdjust="spacingAndGlyphs">2009-2020</text>
<rect x="171.3" y="264.4" width="1.3" height="1.3" fill="#ccc"/>
<rect x="175.7" y="264.4" width="1.3" height="1.3" fill="#ccc"/>
<rect x="184.4" y="264.4" width="1.3" height="1.3" fill="#ccc"/>
</svg></body></html>
